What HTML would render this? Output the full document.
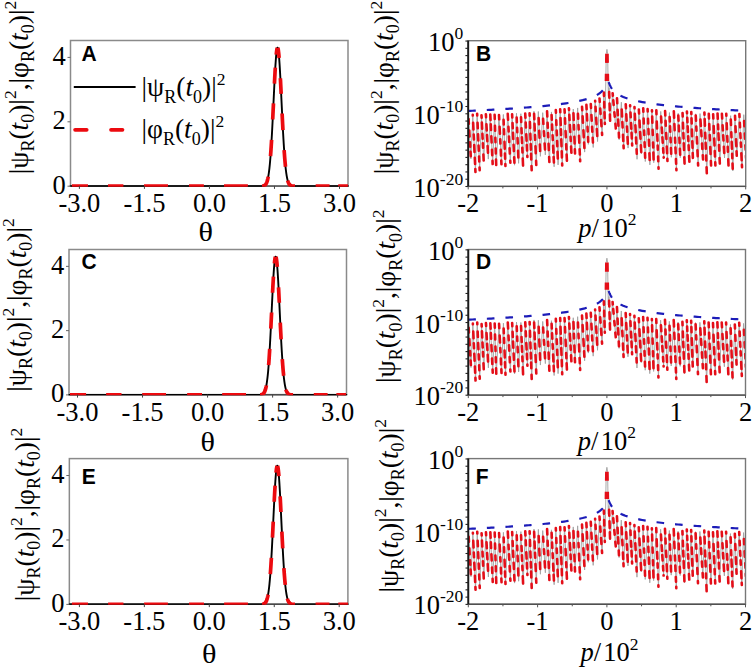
<!DOCTYPE html>
<html><head><meta charset="utf-8"><style>
html,body{margin:0;padding:0;background:#fff;overflow:hidden;}
svg{display:block;}
text{font-family:"Liberation Serif",serif;}
text.sb{font-family:"Liberation Sans",sans-serif;font-weight:bold;}
</style></head><body>
<svg width="754" height="668" viewBox="0 0 754 668" fill="#000">
<rect width="754" height="668" fill="#fff"/>
<rect x="70.5" y="40.5" width="277.5" height="145.4" fill="none" stroke="#8a8a8a" stroke-width="1.5"/>
<line x1="70.5" y1="186.1" x2="348" y2="186.1" stroke="#4a4a4a" stroke-width="1.4"/>
<clipPath id="clipA"><rect x="69.8" y="40.5" width="278.9" height="146.15"/></clipPath>
<g clip-path="url(#clipA)">
<path d="M68.56,186.2 L71.69,186.2 L74.81,186.2 L77.93,186.2 L81.05,186.2 L84.18,186.2 L87.3,186.2 L90.42,186.2 L93.54,186.2 L96.67,186.2 L99.79,186.2 L102.91,186.2 L106.03,186.2 L109.16,186.2 L112.28,186.2 L115.4,186.2 L118.53,186.2 L121.65,186.2 L124.77,186.2 L127.89,186.2 L131.02,186.2 L134.14,186.2 L137.26,186.2 L140.38,186.2 L143.51,186.2 L146.63,186.2 L149.75,186.2 L152.87,186.2 L156,186.2 L159.12,186.2 L162.24,186.2 L165.37,186.2 L168.49,186.2 L171.61,186.2 L174.73,186.2 L177.86,186.2 L180.98,186.2 L184.1,186.2 L187.22,186.2 L190.35,186.2 L193.47,186.2 L196.59,186.2 L199.71,186.2 L202.84,186.2 L205.96,186.2 L209.08,186.2 L212.21,186.2 L215.33,186.2 L218.45,186.2 L221.57,186.2 L224.7,186.2 L227.82,186.2 L230.94,186.2 L234.06,186.2 L237.19,186.2 L240.31,186.2 L243.43,186.2 L246.55,186.2 L249.68,186.2 L252.8,186.2 L252.8,186.2 L252.93,186.2 L253.06,186.2 L253.19,186.2 L253.32,186.2 L253.45,186.2 L253.58,186.2 L253.71,186.2 L253.84,186.2 L253.97,186.2 L254.1,186.2 L254.23,186.2 L254.36,186.2 L254.49,186.2 L254.63,186.2 L254.76,186.2 L254.89,186.2 L255.02,186.2 L255.15,186.2 L255.28,186.2 L255.41,186.2 L255.54,186.2 L255.67,186.2 L255.8,186.2 L255.93,186.2 L256.06,186.2 L256.19,186.2 L256.32,186.2 L256.45,186.2 L256.58,186.2 L256.71,186.2 L256.84,186.2 L256.97,186.2 L257.1,186.2 L257.23,186.2 L257.36,186.2 L257.49,186.2 L257.62,186.2 L257.75,186.2 L257.88,186.2 L258.02,186.2 L258.15,186.2 L258.28,186.2 L258.41,186.2 L258.54,186.2 L258.67,186.2 L258.8,186.2 L258.93,186.2 L259.06,186.2 L259.19,186.2 L259.32,186.2 L259.45,186.19 L259.58,186.19 L259.71,186.19 L259.84,186.19 L259.97,186.19 L260.1,186.19 L260.23,186.19 L260.36,186.19 L260.49,186.18 L260.62,186.18 L260.75,186.18 L260.88,186.17 L261.01,186.17 L261.14,186.17 L261.27,186.16 L261.4,186.16 L261.54,186.15 L261.67,186.14 L261.8,186.14 L261.93,186.13 L262.06,186.12 L262.19,186.11 L262.32,186.09 L262.45,186.08 L262.58,186.07 L262.71,186.05 L262.84,186.03 L262.97,186.01 L263.1,185.98 L263.23,185.96 L263.36,185.93 L263.49,185.89 L263.62,185.86 L263.75,185.82 L263.88,185.77 L264.01,185.72 L264.14,185.67 L264.27,185.61 L264.4,185.54 L264.53,185.47 L264.66,185.39 L264.79,185.3 L264.92,185.2 L265.06,185.09 L265.19,184.98 L265.32,184.85 L265.45,184.71 L265.58,184.56 L265.71,184.39 L265.84,184.21 L265.97,184.01 L266.1,183.8 L266.23,183.57 L266.36,183.32 L266.49,183.05 L266.62,182.76 L266.75,182.44 L266.88,182.1 L267.01,181.73 L267.14,181.34 L267.27,180.92 L267.4,180.46 L267.53,179.98 L267.66,179.46 L267.79,178.9 L267.92,178.31 L268.05,177.68 L268.18,177 L268.31,176.28 L268.45,175.52 L268.58,174.72 L268.71,173.86 L268.84,172.95 L268.97,172 L269.1,170.99 L269.23,169.92 L269.36,168.8 L269.49,167.62 L269.62,166.38 L269.75,165.08 L269.88,163.72 L270.01,162.3 L270.14,160.82 L270.27,159.27 L270.4,157.65 L270.53,155.97 L270.66,154.23 L270.79,152.42 L270.92,150.55 L271.05,148.61 L271.18,146.61 L271.31,144.54 L271.44,142.42 L271.57,140.23 L271.7,137.99 L271.83,135.69 L271.97,133.33 L272.1,130.93 L272.23,128.47 L272.36,125.97 L272.49,123.43 L272.62,120.85 L272.75,118.23 L272.88,115.58 L273.01,112.91 L273.14,110.22 L273.27,107.51 L273.4,104.79 L273.53,102.06 L273.66,99.33 L273.79,96.61 L273.92,93.91 L274.05,91.22 L274.18,88.55 L274.31,85.92 L274.44,83.32 L274.57,80.77 L274.7,78.26 L274.83,75.82 L274.96,73.44 L275.09,71.12 L275.22,68.89 L275.36,66.73 L275.49,64.67 L275.62,62.69 L275.75,60.82 L275.88,59.06 L276.01,57.4 L276.14,55.86 L276.27,54.44 L276.4,53.15 L276.53,51.98 L276.66,50.95 L276.79,50.05 L276.92,49.29 L277.05,48.67 L277.18,48.19 L277.31,47.86 L277.44,47.67 L277.57,47.63 L277.7,47.73 L277.83,47.98 L277.96,48.37 L278.09,48.91 L278.22,49.59 L278.35,50.41 L278.48,51.36 L278.61,52.45 L278.74,53.68 L278.88,55.02 L279.01,56.49 L279.14,58.08 L279.27,59.78 L279.4,61.6 L279.53,63.51 L279.66,65.52 L279.79,67.63 L279.92,69.82 L280.05,72.09 L280.18,74.43 L280.31,76.84 L280.44,79.31 L280.57,81.84 L280.7,84.41 L280.83,87.02 L280.96,89.67 L281.09,92.35 L281.22,95.04 L281.35,97.76 L281.48,100.48 L281.61,103.21 L281.74,105.93 L281.87,108.65 L282,111.35 L282.13,114.04 L282.26,116.7 L282.4,119.33 L282.53,121.93 L282.66,124.5 L282.79,127.03 L282.92,129.51 L283.05,131.94 L283.18,134.33 L283.31,136.66 L283.44,138.94 L283.57,141.16 L283.7,143.32 L283.83,145.42 L283.96,147.46 L284.09,149.43 L284.22,151.34 L284.35,153.19 L284.48,154.97 L284.61,156.69 L284.74,158.34 L284.87,159.93 L285,161.45 L285.13,162.91 L285.26,164.3 L285.39,165.64 L285.52,166.91 L285.65,168.12 L285.79,169.28 L285.92,170.38 L286.05,171.42 L286.18,172.41 L286.31,173.34 L286.44,174.23 L286.57,175.06 L286.7,175.85 L286.83,176.59 L286.96,177.29 L287.09,177.95 L287.22,178.56 L287.35,179.14 L287.48,179.68 L287.61,180.19 L287.74,180.66 L287.87,181.1 L288,181.51 L288.13,181.89 L288.26,182.25 L288.39,182.58 L288.52,182.88 L288.65,183.17 L288.78,183.43 L288.91,183.67 L289.04,183.89 L289.17,184.1 L289.31,184.29 L289.44,184.46 L289.57,184.62 L289.7,184.77 L289.83,184.9 L289.96,185.03 L290.09,185.14 L290.22,185.24 L290.35,185.33 L290.48,185.42 L290.61,185.5 L290.74,185.57 L290.87,185.63 L291,185.69 L291.13,185.74 L291.26,185.79 L291.39,185.83 L291.52,185.87 L291.65,185.91 L291.78,185.94 L291.91,185.97 L292.04,185.99 L292.17,186.02 L292.3,186.04 L292.43,186.06 L292.56,186.07 L292.7,186.09 L292.83,186.1 L292.96,186.11 L293.09,186.12 L293.22,186.13 L293.35,186.14 L293.48,186.15 L293.61,186.15 L293.74,186.16 L293.87,186.16 L294,186.17 L294.13,186.17 L294.26,186.18 L294.39,186.18 L294.52,186.18 L294.65,186.18 L294.78,186.19 L294.91,186.19 L295.04,186.19 L295.17,186.19 L295.3,186.19 L295.43,186.19 L295.56,186.19 L295.69,186.19 L295.82,186.2 L295.95,186.2 L296.08,186.2 L296.22,186.2 L296.35,186.2 L296.48,186.2 L296.61,186.2 L296.74,186.2 L296.87,186.2 L297,186.2 L297.13,186.2 L297.26,186.2 L297.39,186.2 L297.52,186.2 L297.65,186.2 L297.78,186.2 L297.91,186.2 L298.04,186.2 L298.17,186.2 L298.3,186.2 L298.43,186.2 L298.56,186.2 L298.69,186.2 L298.82,186.2 L298.95,186.2 L299.08,186.2 L299.21,186.2 L299.34,186.2 L299.47,186.2 L299.6,186.2 L299.74,186.2 L299.87,186.2 L300,186.2 L300.13,186.2 L300.26,186.2 L300.39,186.2 L300.52,186.2 L300.65,186.2 L300.78,186.2 L300.91,186.2 L301.04,186.2 L301.17,186.2 L301.3,186.2 L301.43,186.2 L301.56,186.2 L301.69,186.2 L301.82,186.2 L301.95,186.2 L302.08,186.2 L302.21,186.2 L302.34,186.2 L302.47,186.2 L302.6,186.2 L302.73,186.2 L302.86,186.2 L302.99,186.2 L303.13,186.2 L303.26,186.2 L303.39,186.2 L303.52,186.2 L303.65,186.2 L303.78,186.2 L303.91,186.2 L304.04,186.2 L304.17,186.2 L304.3,186.2 L304.43,186.2 L304.56,186.2 L304.69,186.2 L304.82,186.2 L304.82,186.2 L307.22,186.2 L309.61,186.2 L312.01,186.2 L314.4,186.2 L316.8,186.2 L319.19,186.2 L321.59,186.2 L323.99,186.2 L326.38,186.2 L328.78,186.2 L331.17,186.2 L333.57,186.2 L335.96,186.2 L338.36,186.2 L340.75,186.2 L343.15,186.2 L345.55,186.2 L347.94,186.2 L350.34,186.2" fill="none" stroke="#000" stroke-width="1.9" stroke-linejoin="round"/>
<path d="M71.88,186.2 L73.11,186.2 L74.34,186.2 L75.57,186.2 L76.8,186.2 L78.03,186.2 L79.26,186.2 L80.48,186.2 L81.71,186.2 L82.94,186.2 L84.17,186.2 L85.4,186.2 L86.63,186.2 L87.86,186.2 L87.98,186.2M108.02,186.2 L109.24,186.2 L110.47,186.2 L111.7,186.2 L112.93,186.2 L114.16,186.2 L115.39,186.2 L116.62,186.2 L117.85,186.2 L119.08,186.2 L120.31,186.2 L121.54,186.2 L122.76,186.2 L123.38,186.2M144.03,186.2 L145.26,186.2 L146.49,186.2 L147.71,186.2 L148.94,186.2 L150.17,186.2 L151.4,186.2 L152.63,186.2 L153.86,186.2 L155.09,186.2 L156.32,186.2 L157.55,186.2 L158.78,186.2 L160.01,186.2 L161.23,186.2 L162.46,186.2 L163.69,186.2 L164.92,186.2 L166.15,186.2 L167.38,186.2 L167.99,186.2M189.01,186.2 L190.24,186.2 L191.47,186.2 L192.7,186.2 L193.93,186.2 L195.16,186.2 L196.39,186.2 L197.61,186.2 L198.84,186.2 L200.07,186.2 L201.3,186.2 L202.53,186.2 L203.76,186.2 L203.88,186.2M224.04,186.2 L225.27,186.2 L226.5,186.2 L227.73,186.2 L228.96,186.2 L230.19,186.2 L231.41,186.2 L232.64,186.2 L233.87,186.2 L235.1,186.2 L236.33,186.2 L237.56,186.2 L238.79,186.2 L240.02,186.2 L241.25,186.2 L242.48,186.2 L243.7,186.2 L244.93,186.2 L246.16,186.2 L247.39,186.2 L247.88,186.2M262,186.12 L262.09,186.12 L262.17,186.11 L262.26,186.1 L262.35,186.09 L262.43,186.08 L262.52,186.07 L262.61,186.06 L262.69,186.05 L262.78,186.04 L262.87,186.02 L262.95,186.01 L263.04,185.99 L263.13,185.98 L263.21,185.96 L263.3,185.94 L263.39,185.92 L263.47,185.9 L263.56,185.87 L263.65,185.85 L263.73,185.82 L263.82,185.79 L263.91,185.76 L263.99,185.73 L264.08,185.69 L264.17,185.66 L264.25,185.62 L264.34,185.57 L264.43,185.53 L264.52,185.48 L264.6,185.42 L264.69,185.37 L264.78,185.31 L264.86,185.25 L264.95,185.18 L265.04,185.11 L265.12,185.03 L265.21,184.95 L265.3,184.87 L265.38,184.78 L265.47,184.68 L265.56,184.58 L265.64,184.47 L265.73,184.36 L265.82,184.24 L265.9,184.11 L265.99,183.98 L266.08,183.84 L266.16,183.69 L266.25,183.53 L266.34,183.37 L266.42,183.19 L266.51,183.01 L266.6,182.81 L266.68,182.61 L266.77,182.39 L266.86,182.17 L266.94,181.93 L267.03,181.68 L267.12,181.42 L267.2,181.14 L267.29,180.86 L267.38,180.56 L267.46,180.24 L267.55,179.91 L267.64,179.56 L267.72,179.2 L267.81,178.83 L267.9,178.43 L267.98,178.02 L268.07,177.59 L268.16,177.15 L268.24,176.68 L268.27,176.54M270.52,156.06 L270.61,154.91 L270.7,153.73 L270.78,152.53 L270.87,151.29 L270.96,150.02 L271.04,148.73 L271.13,147.41 L271.22,146.06 L271.3,144.68 L271.39,143.28 L271.48,141.85 L271.57,140.39 L271.59,139.95M272.68,119.52 L272.77,117.77 L272.86,116.01 L272.94,114.23 L273.03,112.45 L273.12,110.66 L273.2,108.86 L273.29,107.06 L273.38,105.25 L273.46,103.43 L273.46,103.43M274.43,83.63 L274.51,81.93 L274.6,80.24 L274.69,78.58 L274.77,76.94 L274.86,75.33 L274.95,73.74 L275.03,72.19 L275.12,70.67 L275.21,69.18 L275.29,67.73 L275.3,67.59M276.26,54.56 L276.34,53.68 L276.43,52.85 L276.52,52.08 L276.6,51.37 L276.69,50.72 L276.78,50.13 L276.86,49.6 L276.95,49.13 L277.04,48.72 L277.12,48.38 L277.21,48.1 L277.29,47.91M277.8,47.9 L277.89,48.13 L277.97,48.41 L278.06,48.76 L278.15,49.17 L278.23,49.65 L278.32,50.18 L278.41,50.78 L278.49,51.44 L278.58,52.16 L278.67,52.93 L278.75,53.76 L278.84,54.65 L278.93,55.59 L279.01,56.59 L279.1,57.64 L279.13,57.96M280.38,78.25 L280.47,79.9 L280.56,81.59 L280.64,83.29 L280.73,85.01 L280.82,86.75 L280.9,88.51 L280.99,90.28 L281.08,92.06 L281.16,93.85 L281.16,93.85M282.11,113.52 L282.2,115.3 L282.28,117.06 L282.37,118.82 L282.46,120.55 L282.54,122.28 L282.63,123.99 L282.72,125.68 L282.8,127.35 L282.89,129 L282.95,130.14M284.13,150.02 L284.22,151.29 L284.3,152.52 L284.39,153.73 L284.48,154.91 L284.56,156.06 L284.65,157.18 L284.74,158.28 L284.82,159.34 L284.91,160.38 L285,161.38 L285.08,162.36 L285.17,163.31 L285.26,164.24 L285.34,165.13 L285.43,166 L285.51,166.76M287.7,180.52 L287.79,180.83 L287.88,181.12 L287.96,181.39 L288.05,181.65 L288.14,181.9 L288.22,182.14 L288.31,182.37 L288.4,182.59 L288.48,182.79 L288.57,182.99 L288.66,183.17 L288.74,183.35 L288.83,183.51 L288.92,183.67 L289,183.82 L289.09,183.97 L289.18,184.1 L289.26,184.23 L289.35,184.35 L289.44,184.46 L289.52,184.57 L289.61,184.67 L289.7,184.77 L289.78,184.86 L289.87,184.95 L289.96,185.03 L290.04,185.1 L290.13,185.17 L290.22,185.24 L290.3,185.3 L290.39,185.36 L290.48,185.42 L290.56,185.47 L290.65,185.52 L290.74,185.57 L290.82,185.61 L290.91,185.65 L291,185.69 L291.08,185.73 L291.17,185.76 L291.26,185.79 L291.34,185.82 L291.43,185.85 L291.52,185.87 L291.6,185.9 L291.69,185.92 L291.78,185.94 L291.86,185.96 L291.95,185.98 L292.04,185.99 L292.13,186.01 L292.21,186.02 L292.3,186.04 L292.39,186.05 L292.47,186.06 L292.56,186.07 L292.65,186.08 L292.73,186.09 L292.82,186.1 L292.91,186.11 L292.99,186.11 L293.08,186.12 L293.17,186.13 L293.25,186.13 L293.34,186.14 L293.43,186.14 L293.51,186.15 L293.6,186.15 L293.69,186.16 L293.77,186.16 L293.86,186.16 L293.95,186.17 L294.03,186.17 L294.12,186.17 L294.21,186.17 L294.29,186.18 L294.38,186.18 L294.47,186.18 L294.55,186.18 L294.64,186.18 L294.73,186.19 L294.81,186.19 L294.9,186.19 L294.99,186.19 L295,186.19M315.66,186.2 L316.8,186.2 L317.94,186.2 L319.08,186.2 L320.22,186.2 L321.36,186.2 L322.5,186.2 L323.64,186.2 L324.78,186.2 L325.92,186.2 L327.07,186.2 L328.21,186.2 L329.35,186.2 L329.58,186.2M338.25,186.2 L339.39,186.2 L340.53,186.2 L341.67,186.2 L342.81,186.2 L343.95,186.2 L345.09,186.2 L346.23,186.2 L347.37,186.2 L347.94,186.2" fill="none" stroke="#ec0a0f" stroke-width="3.7"/>
</g>
<line x1="79.4" y1="185.9" x2="79.4" y2="188.9" stroke="#444" stroke-width="1"/>
<text x="79.4" y="212.1" font-size="26.5" text-anchor="middle">-3.0</text>
<line x1="144.43" y1="185.9" x2="144.43" y2="188.9" stroke="#444" stroke-width="1"/>
<text x="144.43" y="212.1" font-size="26.5" text-anchor="middle">-1.5</text>
<line x1="209.45" y1="185.9" x2="209.45" y2="188.9" stroke="#444" stroke-width="1"/>
<text x="209.45" y="212.1" font-size="26.5" text-anchor="middle">0.0</text>
<line x1="274.48" y1="185.9" x2="274.48" y2="188.9" stroke="#444" stroke-width="1"/>
<text x="274.48" y="212.1" font-size="26.5" text-anchor="middle">1.5</text>
<line x1="339.5" y1="185.9" x2="339.5" y2="188.9" stroke="#444" stroke-width="1"/>
<text x="339.5" y="212.1" font-size="26.5" text-anchor="middle">3.0</text>
<line x1="67.5" y1="186.2" x2="70.5" y2="186.2" stroke="#666" stroke-width="1"/>
<text x="65.7" y="193.5" font-size="26.5" text-anchor="end">0</text>
<line x1="67.5" y1="121.8" x2="70.5" y2="121.8" stroke="#666" stroke-width="1"/>
<text x="65.7" y="129.1" font-size="26.5" text-anchor="end">2</text>
<line x1="67.5" y1="57.4" x2="70.5" y2="57.4" stroke="#666" stroke-width="1"/>
<text x="65.7" y="64.7" font-size="26.5" text-anchor="end">4</text>
<text transform="translate(81.6,61) scale(1,1.09)" class="sb" font-size="21">A</text>
<text transform="translate(198.55,240.5) scale(1.14,1)" font-size="26.5">θ</text>
<text transform="translate(27.6,174.35) rotate(-90)" font-size="27.5"><tspan font-size="27.5">|ψ</tspan><tspan font-size="18" dy="6.2">R</tspan><tspan font-size="27.5" dy="-6.2">(</tspan><tspan font-size="27.5" font-style="italic">t</tspan><tspan font-size="18" dy="6.2">0</tspan><tspan font-size="27.5" dy="-6.2">)|</tspan><tspan font-size="17.5" dy="-11.5">2</tspan><tspan font-size="27.5" dy="11.5">,</tspan><tspan font-size="27.5">|φ</tspan><tspan font-size="18" dy="6.2">R</tspan><tspan font-size="27.5" dy="-6.2">(</tspan><tspan font-size="27.5" font-style="italic">t</tspan><tspan font-size="18" dy="6.2">0</tspan><tspan font-size="27.5" dy="-6.2">)|</tspan><tspan font-size="17.5" dy="-11.5">2</tspan></text>
<line x1="73.8" y1="87.1" x2="135.6" y2="87.1" stroke="#000" stroke-width="2"/>
<line x1="75.1" y1="129.8" x2="86.7" y2="129.8" stroke="#ec0a0f" stroke-width="3.7" stroke-linecap="round"/>
<line x1="111" y1="129.8" x2="122.5" y2="129.8" stroke="#ec0a0f" stroke-width="3.7" stroke-linecap="round"/>
<text x="141.5" y="96.3" font-size="27.5"><tspan font-size="27.5">|ψ</tspan><tspan font-size="18" dy="6.2">R</tspan><tspan font-size="27.5" dy="-6.2">(</tspan><tspan font-size="27.5" font-style="italic">t</tspan><tspan font-size="18" dy="6.2">0</tspan><tspan font-size="27.5" dy="-6.2">)|</tspan><tspan font-size="17.5" dy="-11.5">2</tspan></text>
<text x="141.5" y="138.3" font-size="27.5"><tspan font-size="27.5">|φ</tspan><tspan font-size="18" dy="6.2">R</tspan><tspan font-size="27.5" dy="-6.2">(</tspan><tspan font-size="27.5" font-style="italic">t</tspan><tspan font-size="18" dy="6.2">0</tspan><tspan font-size="27.5" dy="-6.2">)|</tspan><tspan font-size="17.5" dy="-11.5">2</tspan></text>
<rect x="69" y="249.5" width="277.5" height="145.1" fill="none" stroke="#8a8a8a" stroke-width="1.5"/>
<line x1="69" y1="394.8" x2="346.5" y2="394.8" stroke="#4a4a4a" stroke-width="1.4"/>
<clipPath id="clipC"><rect x="68.3" y="249.5" width="278.9" height="145.85"/></clipPath>
<g clip-path="url(#clipC)">
<path d="M66.66,394.9 L69.78,394.9 L72.91,394.9 L76.03,394.9 L79.15,394.9 L82.28,394.9 L85.4,394.9 L88.52,394.9 L91.65,394.9 L94.77,394.9 L97.89,394.9 L101.02,394.9 L104.14,394.9 L107.26,394.9 L110.39,394.9 L113.51,394.9 L116.63,394.9 L119.76,394.9 L122.88,394.9 L126,394.9 L129.13,394.9 L132.25,394.9 L135.37,394.9 L138.5,394.9 L141.62,394.9 L144.74,394.9 L147.87,394.9 L150.99,394.9 L154.11,394.9 L157.24,394.9 L160.36,394.9 L163.48,394.9 L166.61,394.9 L169.73,394.9 L172.85,394.9 L175.97,394.9 L179.1,394.9 L182.22,394.9 L185.34,394.9 L188.47,394.9 L191.59,394.9 L194.71,394.9 L197.84,394.9 L200.96,394.9 L204.08,394.9 L207.21,394.9 L210.33,394.9 L213.45,394.9 L216.58,394.9 L219.7,394.9 L222.82,394.9 L225.95,394.9 L229.07,394.9 L232.19,394.9 L235.32,394.9 L238.44,394.9 L241.56,394.9 L244.69,394.9 L247.81,394.9 L250.93,394.9 L250.93,394.9 L251.06,394.9 L251.19,394.9 L251.32,394.9 L251.45,394.9 L251.59,394.9 L251.72,394.9 L251.85,394.9 L251.98,394.9 L252.11,394.9 L252.24,394.9 L252.37,394.9 L252.5,394.9 L252.63,394.9 L252.76,394.9 L252.89,394.9 L253.02,394.9 L253.15,394.9 L253.28,394.9 L253.41,394.9 L253.54,394.9 L253.67,394.9 L253.8,394.9 L253.93,394.9 L254.06,394.9 L254.19,394.9 L254.32,394.9 L254.45,394.9 L254.58,394.9 L254.71,394.9 L254.85,394.9 L254.98,394.9 L255.11,394.9 L255.24,394.9 L255.37,394.9 L255.5,394.9 L255.63,394.9 L255.76,394.9 L255.89,394.9 L256.02,394.9 L256.15,394.9 L256.28,394.9 L256.41,394.9 L256.54,394.9 L256.67,394.9 L256.8,394.9 L256.93,394.9 L257.06,394.9 L257.19,394.9 L257.32,394.9 L257.45,394.9 L257.58,394.89 L257.71,394.89 L257.84,394.89 L257.97,394.89 L258.11,394.89 L258.24,394.89 L258.37,394.89 L258.5,394.89 L258.63,394.88 L258.76,394.88 L258.89,394.88 L259.02,394.87 L259.15,394.87 L259.28,394.87 L259.41,394.86 L259.54,394.86 L259.67,394.85 L259.8,394.84 L259.93,394.84 L260.06,394.83 L260.19,394.82 L260.32,394.81 L260.45,394.79 L260.58,394.78 L260.71,394.77 L260.84,394.75 L260.97,394.73 L261.1,394.71 L261.24,394.68 L261.37,394.66 L261.5,394.63 L261.63,394.59 L261.76,394.56 L261.89,394.52 L262.02,394.47 L262.15,394.42 L262.28,394.37 L262.41,394.31 L262.54,394.24 L262.67,394.17 L262.8,394.09 L262.93,394 L263.06,393.9 L263.19,393.79 L263.32,393.68 L263.45,393.55 L263.58,393.41 L263.71,393.26 L263.84,393.09 L263.97,392.91 L264.1,392.72 L264.23,392.51 L264.36,392.28 L264.5,392.03 L264.63,391.76 L264.76,391.46 L264.89,391.15 L265.02,390.81 L265.15,390.44 L265.28,390.05 L265.41,389.63 L265.54,389.18 L265.67,388.69 L265.8,388.17 L265.93,387.62 L266.06,387.02 L266.19,386.39 L266.32,385.72 L266.45,385.01 L266.58,384.25 L266.71,383.44 L266.84,382.59 L266.97,381.68 L267.1,380.73 L267.23,379.72 L267.36,378.65 L267.49,377.54 L267.62,376.36 L267.76,375.12 L267.89,373.83 L268.02,372.47 L268.15,371.05 L268.28,369.57 L268.41,368.02 L268.54,366.41 L268.67,364.74 L268.8,363 L268.93,361.19 L269.06,359.32 L269.19,357.39 L269.32,355.39 L269.45,353.33 L269.58,351.21 L269.71,349.03 L269.84,346.79 L269.97,344.49 L270.1,342.14 L270.23,339.74 L270.36,337.29 L270.49,334.79 L270.62,332.26 L270.75,329.68 L270.88,327.07 L271.02,324.43 L271.15,321.76 L271.28,319.07 L271.41,316.37 L271.54,313.65 L271.67,310.93 L271.8,308.21 L271.93,305.5 L272.06,302.8 L272.19,300.11 L272.32,297.45 L272.45,294.82 L272.58,292.23 L272.71,289.68 L272.84,287.19 L272.97,284.75 L273.1,282.37 L273.23,280.06 L273.36,277.83 L273.49,275.68 L273.62,273.62 L273.75,271.65 L273.88,269.78 L274.01,268.02 L274.14,266.37 L274.28,264.83 L274.41,263.41 L274.54,262.12 L274.67,260.96 L274.8,259.93 L274.93,259.03 L275.06,258.27 L275.19,257.65 L275.32,257.18 L275.45,256.84 L275.58,256.66 L275.71,256.61 L275.84,256.72 L275.97,256.97 L276.1,257.36 L276.23,257.89 L276.36,258.57 L276.49,259.39 L276.62,260.34 L276.75,261.43 L276.88,262.65 L277.01,263.99 L277.14,265.46 L277.27,267.05 L277.4,268.75 L277.54,270.55 L277.67,272.46 L277.8,274.47 L277.93,276.57 L278.06,278.76 L278.19,281.02 L278.32,283.36 L278.45,285.77 L278.58,288.23 L278.71,290.75 L278.84,293.32 L278.97,295.93 L279.1,298.57 L279.23,301.24 L279.36,303.93 L279.49,306.64 L279.62,309.36 L279.75,312.08 L279.88,314.8 L280.01,317.51 L280.14,320.21 L280.27,322.89 L280.4,325.54 L280.53,328.17 L280.66,330.77 L280.8,333.33 L280.93,335.85 L281.06,338.33 L281.19,340.76 L281.32,343.14 L281.45,345.46 L281.58,347.74 L281.71,349.95 L281.84,352.11 L281.97,354.2 L282.1,356.24 L282.23,358.21 L282.36,360.12 L282.49,361.96 L282.62,363.74 L282.75,365.45 L282.88,367.1 L283.01,368.68 L283.14,370.2 L283.27,371.66 L283.4,373.05 L283.53,374.38 L283.66,375.65 L283.79,376.86 L283.92,378.01 L284.06,379.11 L284.19,380.15 L284.32,381.13 L284.45,382.07 L284.58,382.95 L284.71,383.78 L284.84,384.57 L284.97,385.31 L285.1,386.01 L285.23,386.66 L285.36,387.28 L285.49,387.85 L285.62,388.39 L285.75,388.9 L285.88,389.37 L286.01,389.81 L286.14,390.22 L286.27,390.6 L286.4,390.96 L286.53,391.28 L286.66,391.59 L286.79,391.87 L286.92,392.13 L287.05,392.37 L287.18,392.6 L287.32,392.8 L287.45,392.99 L287.58,393.17 L287.71,393.32 L287.84,393.47 L287.97,393.61 L288.1,393.73 L288.23,393.84 L288.36,393.94 L288.49,394.04 L288.62,394.12 L288.75,394.2 L288.88,394.27 L289.01,394.33 L289.14,394.39 L289.27,394.44 L289.4,394.49 L289.53,394.53 L289.66,394.57 L289.79,394.61 L289.92,394.64 L290.05,394.67 L290.18,394.69 L290.31,394.72 L290.44,394.74 L290.58,394.76 L290.71,394.77 L290.84,394.79 L290.97,394.8 L291.1,394.81 L291.23,394.82 L291.36,394.83 L291.49,394.84 L291.62,394.85 L291.75,394.85 L291.88,394.86 L292.01,394.86 L292.14,394.87 L292.27,394.87 L292.4,394.88 L292.53,394.88 L292.66,394.88 L292.79,394.88 L292.92,394.89 L293.05,394.89 L293.18,394.89 L293.31,394.89 L293.44,394.89 L293.57,394.89 L293.7,394.89 L293.84,394.89 L293.97,394.9 L294.1,394.9 L294.23,394.9 L294.36,394.9 L294.49,394.9 L294.62,394.9 L294.75,394.9 L294.88,394.9 L295.01,394.9 L295.14,394.9 L295.27,394.9 L295.4,394.9 L295.53,394.9 L295.66,394.9 L295.79,394.9 L295.92,394.9 L296.05,394.9 L296.18,394.9 L296.31,394.9 L296.44,394.9 L296.57,394.9 L296.7,394.9 L296.83,394.9 L296.96,394.9 L297.1,394.9 L297.23,394.9 L297.36,394.9 L297.49,394.9 L297.62,394.9 L297.75,394.9 L297.88,394.9 L298.01,394.9 L298.14,394.9 L298.27,394.9 L298.4,394.9 L298.53,394.9 L298.66,394.9 L298.79,394.9 L298.92,394.9 L299.05,394.9 L299.18,394.9 L299.31,394.9 L299.44,394.9 L299.57,394.9 L299.7,394.9 L299.83,394.9 L299.96,394.9 L300.09,394.9 L300.22,394.9 L300.36,394.9 L300.49,394.9 L300.62,394.9 L300.75,394.9 L300.88,394.9 L301.01,394.9 L301.14,394.9 L301.27,394.9 L301.4,394.9 L301.53,394.9 L301.66,394.9 L301.79,394.9 L301.92,394.9 L302.05,394.9 L302.18,394.9 L302.31,394.9 L302.44,394.9 L302.57,394.9 L302.7,394.9 L302.83,394.9 L302.96,394.9 L302.96,394.9 L305.36,394.9 L307.76,394.9 L310.15,394.9 L312.55,394.9 L314.94,394.9 L317.34,394.9 L319.74,394.9 L322.13,394.9 L324.53,394.9 L326.92,394.9 L329.32,394.9 L331.72,394.9 L334.11,394.9 L336.51,394.9 L338.91,394.9 L341.3,394.9 L343.7,394.9 L346.09,394.9 L348.49,394.9" fill="none" stroke="#000" stroke-width="1.9" stroke-linejoin="round"/>
<path d="M69.98,394.9 L71.21,394.9 L72.44,394.9 L73.67,394.9 L74.9,394.9 L76.13,394.9 L77.36,394.9 L78.58,394.9 L79.81,394.9 L81.04,394.9 L82.27,394.9 L83.5,394.9 L84.73,394.9 L85.96,394.9 L86.08,394.9M106.12,394.9 L107.35,394.9 L108.58,394.9 L109.81,394.9 L111.04,394.9 L112.27,394.9 L113.5,394.9 L114.73,394.9 L115.96,394.9 L117.18,394.9 L118.41,394.9 L119.64,394.9 L120.87,394.9 L121.49,394.9M142.14,394.9 L143.37,394.9 L144.6,394.9 L145.83,394.9 L147.06,394.9 L148.29,394.9 L149.52,394.9 L150.74,394.9 L151.97,394.9 L153.2,394.9 L154.43,394.9 L155.66,394.9 L156.89,394.9 L158.12,394.9 L159.35,394.9 L160.58,394.9 L161.81,394.9 L163.04,394.9 L164.27,394.9 L165.5,394.9 L165.99,394.9M187.13,394.9 L188.36,394.9 L189.59,394.9 L190.82,394.9 L192.05,394.9 L193.28,394.9 L194.51,394.9 L195.74,394.9 L196.97,394.9 L198.2,394.9 L199.43,394.9 L200.65,394.9 L201.88,394.9 L202.01,394.9M222.17,394.9 L223.4,394.9 L224.63,394.9 L225.86,394.9 L227.08,394.9 L228.31,394.9 L229.54,394.9 L230.77,394.9 L232,394.9 L233.23,394.9 L234.46,394.9 L235.69,394.9 L236.92,394.9 L238.15,394.9 L239.38,394.9 L240.61,394.9 L241.84,394.9 L243.07,394.9 L244.3,394.9 L245.52,394.9 L246.02,394.9M260.1,394.82 L260.19,394.82 L260.27,394.81 L260.36,394.8 L260.45,394.79 L260.53,394.79 L260.62,394.78 L260.71,394.77 L260.79,394.75 L260.88,394.74 L260.97,394.73 L261.05,394.72 L261.14,394.7 L261.23,394.68 L261.32,394.67 L261.4,394.65 L261.49,394.63 L261.58,394.61 L261.66,394.58 L261.75,394.56 L261.84,394.53 L261.92,394.51 L262.01,394.48 L262.1,394.44 L262.18,394.41 L262.27,394.37 L262.36,394.33 L262.44,394.29 L262.53,394.25 L262.62,394.2 L262.7,394.15 L262.79,394.09 L262.88,394.04 L262.96,393.97 L263.05,393.91 L263.14,393.84 L263.22,393.77 L263.31,393.69 L263.4,393.61 L263.48,393.52 L263.57,393.42 L263.66,393.33 L263.74,393.22 L263.83,393.11 L263.92,392.99 L264,392.87 L264.09,392.74 L264.18,392.6 L264.26,392.45 L264.35,392.3 L264.44,392.14 L264.52,391.97 L264.61,391.79 L264.7,391.6 L264.78,391.4 L264.87,391.19 L264.96,390.97 L265.04,390.73 L265.13,390.49 L265.22,390.23 L265.3,389.97 L265.39,389.68 L265.48,389.39 L265.56,389.08 L265.65,388.76 L265.74,388.42 L265.83,388.06 L265.91,387.69 L266,387.31 L266.09,386.9 L266.17,386.48 L266.26,386.05 L266.35,385.59 L266.35,385.54M268.64,365.05 L268.73,363.91 L268.82,362.74 L268.9,361.54 L268.99,360.31 L269.08,359.05 L269.16,357.77 L269.25,356.45 L269.34,355.11 L269.42,353.74 L269.51,352.35 L269.6,350.92 L269.68,349.48 L269.72,348.89M270.81,328.53 L270.9,326.78 L270.99,325.03 L271.07,323.26 L271.16,321.48 L271.25,319.7 L271.33,317.9 L271.42,316.1 L271.51,314.29 L271.59,312.49 L271.59,312.49M272.56,292.72 L272.64,291.01 L272.73,289.33 L272.82,287.66 L272.9,286.03 L272.99,284.41 L273.08,282.83 L273.16,281.28 L273.25,279.76 L273.34,278.27 L273.42,276.82 L273.44,276.54M274.39,263.53 L274.48,262.65 L274.57,261.83 L274.65,261.06 L274.74,260.35 L274.83,259.7 L274.91,259.11 L275,258.58 L275.09,258.11 L275.17,257.71 L275.26,257.37 L275.35,257.09 L275.42,256.91M275.95,256.91 L276.03,257.14 L276.12,257.43 L276.21,257.78 L276.29,258.2 L276.38,258.68 L276.47,259.22 L276.55,259.82 L276.64,260.49 L276.73,261.21 L276.81,261.99 L276.9,262.82 L276.99,263.71 L277.07,264.66 L277.16,265.66 L277.25,266.71 L277.26,266.93M278.53,287.33 L278.62,288.99 L278.7,290.67 L278.79,292.37 L278.88,294.09 L278.96,295.83 L279.05,297.58 L279.14,299.35 L279.23,301.13 L279.3,302.74M280.26,322.55 L280.34,324.32 L280.43,326.08 L280.52,327.83 L280.6,329.56 L280.69,331.28 L280.78,332.98 L280.86,334.67 L280.95,336.33 L281.04,337.98 L281.11,339.28M282.29,359.05 L282.37,360.31 L282.46,361.54 L282.55,362.74 L282.63,363.91 L282.72,365.05 L282.81,366.16 L282.89,367.25 L282.98,368.3 L283.07,369.33 L283.15,370.33 L283.24,371.3 L283.33,372.25 L283.41,373.16 L283.5,374.05 L283.59,374.91 L283.67,375.75 L283.67,375.75M285.92,389.51 L286.01,389.8 L286.09,390.07 L286.18,390.34 L286.27,390.59 L286.35,390.83 L286.44,391.06 L286.53,391.27 L286.61,391.48 L286.7,391.67 L286.79,391.86 L286.87,392.04 L286.96,392.2 L287.05,392.36 L287.13,392.51 L287.22,392.66 L287.31,392.79 L287.4,392.92 L287.48,393.04 L287.57,393.16 L287.66,393.26 L287.74,393.37 L287.83,393.46 L287.92,393.55 L288,393.64 L288.09,393.72 L288.18,393.8 L288.26,393.87 L288.35,393.94 L288.44,394 L288.52,394.06 L288.61,394.12 L288.7,394.17 L288.78,394.22 L288.87,394.26 L288.96,394.31 L289.04,394.35 L289.13,394.39 L289.22,394.42 L289.3,394.46 L289.39,394.49 L289.48,394.52 L289.56,394.54 L289.65,394.57 L289.74,394.59 L289.82,394.62 L289.91,394.64 L290,394.66 L290.08,394.67 L290.17,394.69 L290.26,394.71 L290.34,394.72 L290.43,394.74 L290.52,394.75 L290.6,394.76 L290.69,394.77 L290.78,394.78 L290.86,394.79 L290.95,394.8 L291.04,394.81 L291.12,394.81 L291.21,394.82 L291.3,394.83 L291.38,394.83 L291.47,394.84 L291.56,394.84 L291.64,394.85 L291.73,394.85 L291.82,394.86 L291.91,394.86 L291.99,394.86 L292.08,394.87 L292.17,394.87 L292.25,394.87 L292.34,394.87 L292.43,394.88 L292.51,394.88 L292.6,394.88 L292.69,394.88 L292.77,394.88 L292.86,394.89 L292.95,394.89 L293.03,394.89 L293.09,394.89M313.8,394.9 L314.94,394.9 L316.08,394.9 L317.23,394.9 L318.37,394.9 L319.51,394.9 L320.65,394.9 L321.79,394.9 L322.93,394.9 L324.07,394.9 L325.21,394.9 L326.35,394.9 L327.5,394.9 L327.61,394.9M336.39,394.9 L337.54,394.9 L338.68,394.9 L339.82,394.9 L340.96,394.9 L342.1,394.9 L343.24,394.9 L344.38,394.9 L345.52,394.9 L346.09,394.9" fill="none" stroke="#ec0a0f" stroke-width="3.7"/>
</g>
<line x1="77.5" y1="394.6" x2="77.5" y2="397.6" stroke="#444" stroke-width="1"/>
<text x="77.5" y="420.8" font-size="26.5" text-anchor="middle">-3.0</text>
<line x1="142.54" y1="394.6" x2="142.54" y2="397.6" stroke="#444" stroke-width="1"/>
<text x="142.54" y="420.8" font-size="26.5" text-anchor="middle">-1.5</text>
<line x1="207.57" y1="394.6" x2="207.57" y2="397.6" stroke="#444" stroke-width="1"/>
<text x="207.57" y="420.8" font-size="26.5" text-anchor="middle">0.0</text>
<line x1="272.61" y1="394.6" x2="272.61" y2="397.6" stroke="#444" stroke-width="1"/>
<text x="272.61" y="420.8" font-size="26.5" text-anchor="middle">1.5</text>
<line x1="337.65" y1="394.6" x2="337.65" y2="397.6" stroke="#444" stroke-width="1"/>
<text x="337.65" y="420.8" font-size="26.5" text-anchor="middle">3.0</text>
<line x1="66" y1="394.9" x2="69" y2="394.9" stroke="#666" stroke-width="1"/>
<text x="64.2" y="402.2" font-size="26.5" text-anchor="end">0</text>
<line x1="66" y1="330.63" x2="69" y2="330.63" stroke="#666" stroke-width="1"/>
<text x="64.2" y="337.93" font-size="26.5" text-anchor="end">2</text>
<line x1="66" y1="266.37" x2="69" y2="266.37" stroke="#666" stroke-width="1"/>
<text x="64.2" y="273.67" font-size="26.5" text-anchor="end">4</text>
<text transform="translate(81.6,268.8) scale(1,1.09)" class="sb" font-size="21">C</text>
<text transform="translate(200.55,451.4) scale(1.14,1)" font-size="26.5">θ</text>
<text transform="translate(25.8,391.75) rotate(-90)" font-size="27.5"><tspan font-size="27.5">|ψ</tspan><tspan font-size="18" dy="6.2">R</tspan><tspan font-size="27.5" dy="-6.2">(</tspan><tspan font-size="27.5" font-style="italic">t</tspan><tspan font-size="18" dy="6.2">0</tspan><tspan font-size="27.5" dy="-6.2">)|</tspan><tspan font-size="17.5" dy="-11.5">2</tspan><tspan font-size="27.5" dy="11.5">,</tspan><tspan font-size="27.5">|φ</tspan><tspan font-size="18" dy="6.2">R</tspan><tspan font-size="27.5" dy="-6.2">(</tspan><tspan font-size="27.5" font-style="italic">t</tspan><tspan font-size="18" dy="6.2">0</tspan><tspan font-size="27.5" dy="-6.2">)|</tspan><tspan font-size="17.5" dy="-11.5">2</tspan></text>
<rect x="69.35" y="458.6" width="278.55" height="145.5" fill="none" stroke="#8a8a8a" stroke-width="1.5"/>
<line x1="69.35" y1="604.3" x2="347.9" y2="604.3" stroke="#4a4a4a" stroke-width="1.4"/>
<clipPath id="clipE"><rect x="68.65" y="458.6" width="279.95" height="146.25"/></clipPath>
<g clip-path="url(#clipE)">
<path d="M68.58,604.4 L71.69,604.4 L74.81,604.4 L77.93,604.4 L81.05,604.4 L84.17,604.4 L87.29,604.4 L90.41,604.4 L93.53,604.4 L96.65,604.4 L99.77,604.4 L102.88,604.4 L106,604.4 L109.12,604.4 L112.24,604.4 L115.36,604.4 L118.48,604.4 L121.6,604.4 L124.72,604.4 L127.84,604.4 L130.96,604.4 L134.08,604.4 L137.19,604.4 L140.31,604.4 L143.43,604.4 L146.55,604.4 L149.67,604.4 L152.79,604.4 L155.91,604.4 L159.03,604.4 L162.15,604.4 L165.27,604.4 L168.39,604.4 L171.5,604.4 L174.62,604.4 L177.74,604.4 L180.86,604.4 L183.98,604.4 L187.1,604.4 L190.22,604.4 L193.34,604.4 L196.46,604.4 L199.58,604.4 L202.69,604.4 L205.81,604.4 L208.93,604.4 L212.05,604.4 L215.17,604.4 L218.29,604.4 L221.41,604.4 L224.53,604.4 L227.65,604.4 L230.77,604.4 L233.89,604.4 L237,604.4 L240.12,604.4 L243.24,604.4 L246.36,604.4 L249.48,604.4 L252.6,604.4 L252.6,604.4 L252.73,604.4 L252.86,604.4 L252.99,604.4 L253.12,604.4 L253.25,604.4 L253.38,604.4 L253.51,604.4 L253.64,604.4 L253.77,604.4 L253.9,604.4 L254.03,604.4 L254.16,604.4 L254.29,604.4 L254.42,604.4 L254.55,604.4 L254.68,604.4 L254.81,604.4 L254.94,604.4 L255.07,604.4 L255.2,604.4 L255.33,604.4 L255.46,604.4 L255.6,604.4 L255.73,604.4 L255.86,604.4 L255.99,604.4 L256.12,604.4 L256.25,604.4 L256.38,604.4 L256.51,604.4 L256.64,604.4 L256.77,604.4 L256.9,604.4 L257.03,604.4 L257.16,604.4 L257.29,604.4 L257.42,604.4 L257.55,604.4 L257.68,604.4 L257.81,604.4 L257.94,604.4 L258.07,604.4 L258.2,604.4 L258.33,604.4 L258.46,604.4 L258.59,604.4 L258.72,604.4 L258.85,604.4 L258.98,604.4 L259.11,604.4 L259.24,604.39 L259.37,604.39 L259.5,604.39 L259.63,604.39 L259.76,604.39 L259.89,604.39 L260.02,604.39 L260.15,604.39 L260.28,604.38 L260.41,604.38 L260.54,604.38 L260.67,604.37 L260.8,604.37 L260.93,604.37 L261.06,604.36 L261.19,604.36 L261.33,604.35 L261.46,604.34 L261.59,604.34 L261.72,604.33 L261.85,604.32 L261.98,604.31 L262.11,604.29 L262.24,604.28 L262.37,604.27 L262.5,604.25 L262.63,604.23 L262.76,604.21 L262.89,604.18 L263.02,604.16 L263.15,604.13 L263.28,604.09 L263.41,604.06 L263.54,604.02 L263.67,603.97 L263.8,603.92 L263.93,603.87 L264.06,603.81 L264.19,603.74 L264.32,603.67 L264.45,603.58 L264.58,603.5 L264.71,603.4 L264.84,603.29 L264.97,603.17 L265.1,603.05 L265.23,602.91 L265.36,602.75 L265.49,602.59 L265.62,602.41 L265.75,602.21 L265.88,602 L266.01,601.77 L266.14,601.52 L266.27,601.25 L266.4,600.95 L266.53,600.64 L266.66,600.3 L266.79,599.93 L266.92,599.54 L267.06,599.11 L267.19,598.66 L267.32,598.17 L267.45,597.65 L267.58,597.1 L267.71,596.5 L267.84,595.87 L267.97,595.2 L268.1,594.48 L268.23,593.72 L268.36,592.91 L268.49,592.05 L268.62,591.14 L268.75,590.19 L268.88,589.18 L269.01,588.11 L269.14,586.99 L269.27,585.81 L269.4,584.57 L269.53,583.27 L269.66,581.91 L269.79,580.49 L269.92,579 L270.05,577.45 L270.18,575.83 L270.31,574.15 L270.44,572.41 L270.57,570.6 L270.7,568.72 L270.83,566.78 L270.96,564.78 L271.09,562.72 L271.22,560.59 L271.35,558.4 L271.48,556.15 L271.61,553.85 L271.74,551.5 L271.87,549.09 L272,546.63 L272.13,544.13 L272.26,541.58 L272.39,539 L272.52,536.38 L272.65,533.73 L272.78,531.06 L272.92,528.36 L273.05,525.65 L273.18,522.93 L273.31,520.2 L273.44,517.47 L273.57,514.75 L273.7,512.04 L273.83,509.35 L273.96,506.68 L274.09,504.05 L274.22,501.45 L274.35,498.89 L274.48,496.39 L274.61,493.94 L274.74,491.56 L274.87,489.24 L275,487.01 L275.13,484.85 L275.26,482.78 L275.39,480.81 L275.52,478.94 L275.65,477.17 L275.78,475.51 L275.91,473.97 L276.04,472.55 L276.17,471.25 L276.3,470.09 L276.43,469.05 L276.56,468.15 L276.69,467.39 L276.82,466.77 L276.95,466.3 L277.08,465.96 L277.21,465.77 L277.34,465.73 L277.47,465.84 L277.6,466.09 L277.73,466.48 L277.86,467.02 L277.99,467.7 L278.12,468.52 L278.25,469.47 L278.38,470.56 L278.51,471.78 L278.65,473.13 L278.78,474.6 L278.91,476.19 L279.04,477.9 L279.17,479.71 L279.3,481.63 L279.43,483.64 L279.56,485.75 L279.69,487.94 L279.82,490.21 L279.95,492.55 L280.08,494.96 L280.21,497.44 L280.34,499.96 L280.47,502.54 L280.6,505.15 L280.73,507.8 L280.86,510.48 L280.99,513.18 L281.12,515.9 L281.25,518.62 L281.38,521.35 L281.51,524.08 L281.64,526.79 L281.77,529.5 L281.9,532.19 L282.03,534.85 L282.16,537.49 L282.29,540.09 L282.42,542.66 L282.55,545.19 L282.68,547.67 L282.81,550.11 L282.94,552.49 L283.07,554.83 L283.2,557.11 L283.33,559.33 L283.46,561.49 L283.59,563.59 L283.72,565.63 L283.85,567.61 L283.98,569.52 L284.11,571.37 L284.24,573.15 L284.38,574.87 L284.51,576.52 L284.64,578.11 L284.77,579.63 L284.9,581.09 L285.03,582.49 L285.16,583.82 L285.29,585.1 L285.42,586.31 L285.55,587.47 L285.68,588.56 L285.81,589.61 L285.94,590.6 L286.07,591.53 L286.2,592.42 L286.33,593.25 L286.46,594.04 L286.59,594.78 L286.72,595.48 L286.85,596.14 L286.98,596.76 L287.11,597.34 L287.24,597.88 L287.37,598.38 L287.5,598.86 L287.63,599.3 L287.76,599.71 L287.89,600.09 L288.02,600.44 L288.15,600.77 L288.28,601.08 L288.41,601.36 L288.54,601.63 L288.67,601.87 L288.8,602.09 L288.93,602.3 L289.06,602.49 L289.19,602.66 L289.32,602.82 L289.45,602.97 L289.58,603.1 L289.71,603.23 L289.84,603.34 L289.97,603.44 L290.1,603.53 L290.24,603.62 L290.37,603.7 L290.5,603.77 L290.63,603.83 L290.76,603.89 L290.89,603.94 L291.02,603.99 L291.15,604.03 L291.28,604.07 L291.41,604.11 L291.54,604.14 L291.67,604.17 L291.8,604.19 L291.93,604.22 L292.06,604.24 L292.19,604.26 L292.32,604.27 L292.45,604.29 L292.58,604.3 L292.71,604.31 L292.84,604.32 L292.97,604.33 L293.1,604.34 L293.23,604.35 L293.36,604.35 L293.49,604.36 L293.62,604.36 L293.75,604.37 L293.88,604.37 L294.01,604.38 L294.14,604.38 L294.27,604.38 L294.4,604.38 L294.53,604.39 L294.66,604.39 L294.79,604.39 L294.92,604.39 L295.05,604.39 L295.18,604.39 L295.31,604.39 L295.44,604.39 L295.57,604.4 L295.7,604.4 L295.83,604.4 L295.97,604.4 L296.1,604.4 L296.23,604.4 L296.36,604.4 L296.49,604.4 L296.62,604.4 L296.75,604.4 L296.88,604.4 L297.01,604.4 L297.14,604.4 L297.27,604.4 L297.4,604.4 L297.53,604.4 L297.66,604.4 L297.79,604.4 L297.92,604.4 L298.05,604.4 L298.18,604.4 L298.31,604.4 L298.44,604.4 L298.57,604.4 L298.7,604.4 L298.83,604.4 L298.96,604.4 L299.09,604.4 L299.22,604.4 L299.35,604.4 L299.48,604.4 L299.61,604.4 L299.74,604.4 L299.87,604.4 L300,604.4 L300.13,604.4 L300.26,604.4 L300.39,604.4 L300.52,604.4 L300.65,604.4 L300.78,604.4 L300.91,604.4 L301.04,604.4 L301.17,604.4 L301.3,604.4 L301.43,604.4 L301.56,604.4 L301.7,604.4 L301.83,604.4 L301.96,604.4 L302.09,604.4 L302.22,604.4 L302.35,604.4 L302.48,604.4 L302.61,604.4 L302.74,604.4 L302.87,604.4 L303,604.4 L303.13,604.4 L303.26,604.4 L303.39,604.4 L303.52,604.4 L303.65,604.4 L303.78,604.4 L303.91,604.4 L304.04,604.4 L304.17,604.4 L304.3,604.4 L304.43,604.4 L304.56,604.4 L304.56,604.4 L306.95,604.4 L309.35,604.4 L311.74,604.4 L314.13,604.4 L316.52,604.4 L318.92,604.4 L321.31,604.4 L323.7,604.4 L326.1,604.4 L328.49,604.4 L330.88,604.4 L333.27,604.4 L335.67,604.4 L338.06,604.4 L340.45,604.4 L342.85,604.4 L345.24,604.4 L347.63,604.4 L350.02,604.4" fill="none" stroke="#000" stroke-width="1.9" stroke-linejoin="round"/>
<path d="M71.89,604.4 L73.12,604.4 L74.34,604.4 L75.57,604.4 L76.8,604.4 L78.03,604.4 L79.26,604.4 L80.48,604.4 L81.71,604.4 L82.94,604.4 L84.17,604.4 L85.39,604.4 L86.62,604.4 L87.85,604.4 L87.97,604.4M108.11,604.4 L109.33,604.4 L110.56,604.4 L111.79,604.4 L113.02,604.4 L114.24,604.4 L115.47,604.4 L116.7,604.4 L117.93,604.4 L119.15,604.4 L120.38,604.4 L121.61,604.4 L122.84,604.4 L123.45,604.4M144.08,604.4 L145.3,604.4 L146.53,604.4 L147.76,604.4 L148.99,604.4 L150.21,604.4 L151.44,604.4 L152.67,604.4 L153.9,604.4 L155.12,604.4 L156.35,604.4 L157.58,604.4 L158.81,604.4 L160.04,604.4 L161.26,604.4 L162.49,604.4 L163.72,604.4 L164.95,604.4 L166.17,604.4 L167.4,604.4 L167.89,604.4M189.01,604.4 L190.24,604.4 L191.46,604.4 L192.69,604.4 L193.92,604.4 L195.15,604.4 L196.37,604.4 L197.6,604.4 L198.83,604.4 L200.06,604.4 L201.28,604.4 L202.51,604.4 L203.74,604.4 L203.98,604.4M224.12,604.4 L225.35,604.4 L226.57,604.4 L227.8,604.4 L229.03,604.4 L230.26,604.4 L231.48,604.4 L232.71,604.4 L233.94,604.4 L235.17,604.4 L236.39,604.4 L237.62,604.4 L238.85,604.4 L240.08,604.4 L241.31,604.4 L242.53,604.4 L243.76,604.4 L244.99,604.4 L246.22,604.4 L247.44,604.4 L247.93,604.4M262.01,604.3 L262.09,604.3 L262.18,604.29 L262.27,604.28 L262.35,604.27 L262.44,604.26 L262.53,604.24 L262.61,604.23 L262.7,604.22 L262.79,604.2 L262.87,604.19 L262.96,604.17 L263.05,604.15 L263.13,604.13 L263.22,604.11 L263.31,604.09 L263.39,604.06 L263.48,604.04 L263.57,604.01 L263.65,603.98 L263.74,603.95 L263.83,603.91 L263.91,603.87 L264,603.84 L264.09,603.79 L264.17,603.75 L264.26,603.7 L264.34,603.65 L264.43,603.6 L264.52,603.54 L264.6,603.48 L264.69,603.41 L264.78,603.34 L264.86,603.27 L264.95,603.19 L265.04,603.11 L265.12,603.02 L265.21,602.93 L265.3,602.83 L265.38,602.73 L265.47,602.62 L265.56,602.5 L265.64,602.38 L265.73,602.25 L265.82,602.11 L265.9,601.96 L265.99,601.81 L266.08,601.65 L266.16,601.48 L266.25,601.3 L266.34,601.11 L266.42,600.91 L266.51,600.7 L266.6,600.48 L266.68,600.25 L266.77,600 L266.86,599.75 L266.94,599.48 L267.03,599.2 L267.12,598.9 L267.2,598.6 L267.29,598.27 L267.38,597.93 L267.46,597.58 L267.55,597.21 L267.64,596.83 L267.72,596.42 L267.81,596 L267.9,595.57 L267.98,595.11 L268.07,594.63 L268.07,594.63M270.31,574.13 L270.4,572.97 L270.49,571.79 L270.57,570.58 L270.66,569.34 L270.75,568.07 L270.83,566.77 L270.92,565.45 L271.01,564.09 L271.09,562.71 L271.18,561.31 L271.27,559.87 L271.35,558.41 L271.38,557.97M272.46,537.67 L272.55,535.92 L272.63,534.16 L272.72,532.39 L272.81,530.6 L272.89,528.81 L272.98,527.01 L273.07,525.2 L273.15,523.39 L273.24,521.58 L273.24,521.58M274.2,501.76 L274.29,500.05 L274.37,498.37 L274.46,496.7 L274.55,495.06 L274.63,493.45 L274.72,491.87 L274.81,490.31 L274.89,488.79 L274.98,487.3 L275.07,485.85 L275.08,485.71M276.03,472.67 L276.12,471.79 L276.2,470.96 L276.29,470.19 L276.38,469.48 L276.46,468.83 L276.55,468.24 L276.64,467.7 L276.72,467.24 L276.81,466.83 L276.9,466.49 L276.98,466.21 L277.06,466.01M277.57,466.01 L277.66,466.23 L277.74,466.52 L277.83,466.87 L277.92,467.28 L278,467.75 L278.09,468.29 L278.18,468.89 L278.26,469.55 L278.35,470.26 L278.44,471.04 L278.52,471.87 L278.61,472.76 L278.7,473.7 L278.78,474.7 L278.87,475.75 L278.9,476.08M280.15,496.37 L280.24,498.03 L280.33,499.71 L280.41,501.42 L280.5,503.14 L280.59,504.88 L280.67,506.64 L280.76,508.41 L280.84,510.19 L280.93,511.98 L280.93,511.98M281.88,531.67 L281.96,533.45 L282.05,535.22 L282.14,536.97 L282.22,538.71 L282.31,540.43 L282.4,542.14 L282.48,543.83 L282.57,545.51 L282.66,547.16 L282.72,548.31M283.89,568.2 L283.98,569.46 L284.07,570.7 L284.15,571.91 L284.24,573.09 L284.33,574.24 L284.41,575.36 L284.5,576.46 L284.59,577.52 L284.67,578.56 L284.76,579.57 L284.85,580.55 L284.93,581.5 L285.02,582.42 L285.11,583.32 L285.19,584.19 L285.26,584.86M287.44,598.63 L287.52,598.93 L287.61,599.23 L287.7,599.51 L287.78,599.77 L287.87,600.03 L287.96,600.27 L288.04,600.5 L288.13,600.72 L288.22,600.93 L288.3,601.13 L288.39,601.31 L288.48,601.49 L288.56,601.66 L288.65,601.82 L288.74,601.98 L288.82,602.12 L288.91,602.26 L289,602.39 L289.08,602.51 L289.17,602.63 L289.26,602.74 L289.34,602.84 L289.43,602.94 L289.52,603.03 L289.6,603.12 L289.69,603.2 L289.77,603.28 L289.86,603.35 L289.95,603.42 L290.03,603.48 L290.12,603.55 L290.21,603.6 L290.29,603.66 L290.38,603.71 L290.47,603.75 L290.55,603.8 L290.64,603.84 L290.73,603.88 L290.81,603.91 L290.9,603.95 L290.99,603.98 L291.07,604.01 L291.16,604.04 L291.25,604.06 L291.33,604.09 L291.42,604.11 L291.51,604.13 L291.59,604.15 L291.68,604.17 L291.77,604.19 L291.85,604.2 L291.94,604.22 L292.03,604.23 L292.11,604.24 L292.2,604.26 L292.29,604.27 L292.37,604.28 L292.46,604.29 L292.55,604.3 L292.63,604.3 L292.72,604.31 L292.81,604.32 L292.89,604.33 L292.98,604.33 L293.07,604.34 L293.15,604.34 L293.24,604.35 L293.33,604.35 L293.41,604.36 L293.5,604.36 L293.59,604.36 L293.67,604.37 L293.76,604.37 L293.85,604.37 L293.93,604.37 L294.02,604.38 L294.11,604.38 L294.19,604.38 L294.28,604.38 L294.37,604.38 L294.45,604.38 L294.54,604.39 L294.63,604.39 L294.71,604.39 L294.8,604.39 L294.89,604.39 L294.97,604.39 L295,604.39M315.61,604.4 L316.75,604.4 L317.89,604.4 L319.03,604.4 L320.17,604.4 L321.31,604.4 L322.45,604.4 L323.59,604.4 L324.73,604.4 L325.87,604.4 L327.01,604.4 L328.15,604.4 L329.29,604.4 L329.51,604.4M338.29,604.4 L339.43,604.4 L340.57,604.4 L341.71,604.4 L342.85,604.4 L343.99,604.4 L345.13,604.4 L346.26,604.4 L347.4,604.4 L347.97,604.4" fill="none" stroke="#ec0a0f" stroke-width="3.7"/>
</g>
<line x1="79.4" y1="604.1" x2="79.4" y2="607.1" stroke="#444" stroke-width="1"/>
<text x="79.4" y="630.3" font-size="26.5" text-anchor="middle">-3.0</text>
<line x1="144.35" y1="604.1" x2="144.35" y2="607.1" stroke="#444" stroke-width="1"/>
<text x="144.35" y="630.3" font-size="26.5" text-anchor="middle">-1.5</text>
<line x1="209.3" y1="604.1" x2="209.3" y2="607.1" stroke="#444" stroke-width="1"/>
<text x="209.3" y="630.3" font-size="26.5" text-anchor="middle">0.0</text>
<line x1="274.25" y1="604.1" x2="274.25" y2="607.1" stroke="#444" stroke-width="1"/>
<text x="274.25" y="630.3" font-size="26.5" text-anchor="middle">1.5</text>
<line x1="339.2" y1="604.1" x2="339.2" y2="607.1" stroke="#444" stroke-width="1"/>
<text x="339.2" y="630.3" font-size="26.5" text-anchor="middle">3.0</text>
<line x1="66.35" y1="604.4" x2="69.35" y2="604.4" stroke="#666" stroke-width="1"/>
<text x="64.55" y="611.7" font-size="26.5" text-anchor="end">0</text>
<line x1="66.35" y1="539.96" x2="69.35" y2="539.96" stroke="#666" stroke-width="1"/>
<text x="64.55" y="547.26" font-size="26.5" text-anchor="end">2</text>
<line x1="66.35" y1="475.51" x2="69.35" y2="475.51" stroke="#666" stroke-width="1"/>
<text x="64.55" y="482.81" font-size="26.5" text-anchor="end">4</text>
<text transform="translate(81.7,483.7) scale(1,1.09)" class="sb" font-size="21">E</text>
<text transform="translate(201.95,662.5) scale(1.14,1)" font-size="26.5">θ</text>
<text transform="translate(33.9,601.25) rotate(-90)" font-size="27.5"><tspan font-size="27.5">|ψ</tspan><tspan font-size="18" dy="6.2">R</tspan><tspan font-size="27.5" dy="-6.2">(</tspan><tspan font-size="27.5" font-style="italic">t</tspan><tspan font-size="18" dy="6.2">0</tspan><tspan font-size="27.5" dy="-6.2">)|</tspan><tspan font-size="17.5" dy="-11.5">2</tspan><tspan font-size="27.5" dy="11.5">,</tspan><tspan font-size="27.5">|φ</tspan><tspan font-size="18" dy="6.2">R</tspan><tspan font-size="27.5" dy="-6.2">(</tspan><tspan font-size="27.5" font-style="italic">t</tspan><tspan font-size="18" dy="6.2">0</tspan><tspan font-size="27.5" dy="-6.2">)|</tspan><tspan font-size="17.5" dy="-11.5">2</tspan></text>
<clipPath id="clipB"><rect x="468.2" y="40.7" width="277.5" height="145.7"/></clipPath>
<g clip-path="url(#clipB)">
<path d="M468.4,116.2 L470.91,158.8 L472.77,114.91 L475.45,171.86 L477.14,113.89 L479.66,170.1 L481.51,115.39 L483.69,161 L485.88,114.39 L488.3,159.11 L490.25,113.95 L492.66,164.07 L494.62,114.74 L496.2,165.03 L499,115.1 L501.46,164.3 L503.37,114.48 L505.43,166.07 L507.74,113.75 L510.34,162.76 L512.11,114.24 L514.54,165.2 L516.48,113.28 L518.59,163.32 L520.85,113.73 L523.1,166.57 L525.22,113.45 L527.37,156.94 L529.59,113.33 L531.67,170.13 L533.96,111.19 L536.27,164.84 L538.33,111.51 L540.4,156.34 L542.7,112.7 L545.34,154.86 L547.07,111.19 L549.39,162.41 L551.44,111.93 L554.12,166.78 L555.81,110.08 L558.08,164.93 L560.18,109.27 L562.22,165.39 L564.55,109.38 L566.96,161.66 L568.93,108.2 L571.41,152.59 L573.3,109.01 L575.01,153.51 L577.67,107.94 L580.17,161.18 L582.04,106.73 L584.65,152.1 L586.41,104.8 L588.35,144.34 L590.78,103.96 L593.23,147.44 L595.15,100.83 L597.56,141.54 L599.52,98.61 L602.13,135.01 L603.9,92.61 L604.87,123.96 L605.56,96.32 L606.26,53.78 L606.95,49.41 L607.64,53.78 L608.34,96.32 L609.03,87.72 L610.14,121.77 L612.63,93.18 L615.82,128.53 L617,98.17 L619.15,139.66 L621.37,102.23 L623.65,148.29 L625.74,104.33 L628.05,148.08 L630.11,105.22 L632.18,145.5 L634.48,107.08 L637.05,159.27 L638.86,109.49 L641.35,153.92 L643.23,108.25 L645.31,161.51 L647.6,109 L649.88,164.89 L651.97,110.32 L653.72,162.68 L656.34,110.25 L658.55,168.76 L660.71,111.43 L663.72,157.67 L665.08,110.97 L667.46,160.88 L669.45,112.59 L671.34,157.25 L673.82,111.23 L676.42,170.18 L678.19,113.25 L680.31,157.63 L682.56,113.1 L684.62,165 L686.93,111.66 L689.39,161.67 L691.3,112.12 L692.88,157.83 L695.67,113.8 L698.13,165.35 L700.04,113.61 L703.07,159.52 L704.41,112.67 L706.81,173.53 L708.79,113.87 L711.1,166.15 L713.16,114.38 L715.39,165.51 L717.53,113.43 L719.87,164.5 L721.9,113.87 L724.53,157.96 L726.27,113.86 L728.51,165.38 L730.64,115.69 L732.81,170.97 L735.01,115.82 L736.8,156.93 L739.38,114.13 L742.02,167.15 L743.75,114.7 L746.1,158.21 L748.12,115.54 L750.34,157.52" fill="none" stroke="#a4a4a4" stroke-width="0.95"/>
<path d="M468.57,119.02L468.85,123.74M469.24,130.43L469.59,136.41M469.94,142.28L470.2,146.76M470.49,151.68L470.76,156.24M472.77,114.91L472.8,115.57M473.14,122.8L473.46,129.55M473.7,134.56L473.93,139.41M474.19,144.96L474.51,151.85M474.79,157.85L475.09,164.06M475.33,169.17L475.45,171.86M477.14,113.89L477.22,115.56M477.55,122.91L477.79,128.27M478.06,134.39L478.33,140.41M478.56,145.6L478.79,150.78M479.05,156.56L479.27,161.45M479.55,167.58L479.66,170.1M481.51,115.39L481.62,117.66M481.86,122.62L482.14,128.61M482.4,133.9L482.62,138.62M482.85,143.37L483.06,147.68M483.39,154.6L483.67,160.54M485.88,114.39L486.04,117.28M486.42,124.29L486.75,130.36M487,135.08L487.33,141.2M487.6,146.15L487.96,152.8M490.28,114.48L490.54,119.92M490.75,124.29L491.02,129.94M491.33,136.4L491.62,142.49M491.97,149.69L492.23,155.12M492.51,160.9L492.66,164.07M494.62,114.74L494.75,118.89M494.97,125.77L495.13,130.81M495.34,137.72L495.49,142.25M495.68,148.51L495.83,153.38M496.03,159.48L496.2,165.03M499,115.1L499.21,119.32M499.58,126.74L499.93,133.65M500.21,139.28L500.42,143.57M500.74,149.91L501.03,155.57M501.28,160.64L501.46,164.3M503.57,119.68L503.76,124.4M503.96,129.38L504.16,134.27M504.46,141.82L504.74,148.76M504.93,153.64L505.14,158.81M505.35,164L505.43,166.07M507.74,113.75L508.06,119.77M508.43,126.78L508.67,131.36M508.94,136.44L509.23,141.9M509.57,148.21L509.85,153.56M510.23,160.68L510.34,162.76M512.11,114.24L512.26,117.35M512.53,123.07L512.77,128.14M513,132.87L513.29,139.02M513.57,144.83L513.87,151.07M514.16,157.18L514.42,162.63M516.66,117.52L516.85,122.11M517.09,127.8L517.28,132.27M517.52,137.97L517.75,143.4M518.06,150.74L518.35,157.55M521.01,117.41L521.2,121.9M521.46,128.18L521.67,133.1M521.85,137.28L522.09,142.84M522.3,147.85L522.49,152.4M522.75,158.49L523.05,165.46M525.22,113.45L525.43,117.62M525.67,122.46L525.91,127.36M526.26,134.42L526.57,140.67M526.79,145.14L527.05,150.5M527.32,155.9L527.37,156.94M529.59,113.33L529.68,115.74M529.91,122.04L530.13,127.99M530.34,133.76L530.55,139.58M530.71,144.1L530.91,149.58M531.07,153.74L531.28,159.5M531.51,165.97L531.67,170.13M534.08,113.87L534.3,119.2M534.5,123.72L534.79,130.39M534.98,134.95L535.19,139.82M535.47,146.21L535.76,153.1M536.09,160.7L536.27,164.84M538.63,118.04L538.92,124.23M539.22,130.8L539.53,137.63M539.85,144.57L540.15,150.95M543.08,118.81L543.4,123.81M543.86,131.3L544.16,135.97M544.62,143.43L545,149.44M547.07,111.19L547.31,116.52M547.6,122.89L547.82,127.77M548.06,132.97L548.25,137.21M548.55,143.84L548.83,150.07M549.14,157.08L549.37,161.99M551.59,114.97L551.82,119.72M552.06,124.58L552.33,130.06M552.59,135.37L552.82,140.04M553.1,145.89L553.44,152.79M553.64,156.99L553.91,162.46M555.81,110.08L555.92,112.59M556.23,120.19L556.43,124.97M556.66,130.56L556.85,135.14M557.1,141.12L557.3,146.09M557.54,151.79L557.81,158.4M560.18,109.27L560.29,112.22M560.5,118.07L560.76,125.05M560.91,129.18L561.11,134.83M561.28,139.39L561.52,146.18M561.71,151.19L561.93,157.33M562.15,163.47L562.22,165.39M564.55,109.38L564.7,112.59M564.97,118.32L565.22,123.75M565.55,131.11L565.84,137.27M566.16,144.34L566.39,149.35M566.63,154.52L566.92,160.74M568.93,108.2L569.02,109.87M569.3,114.81L569.58,119.9M569.87,125.11L570.26,132.04M570.52,136.7L570.76,140.97M571.07,146.59L571.41,152.59M573.46,113.19L573.72,119.93M573.92,125.12L574.09,129.57M574.37,136.83L574.62,143.37M574.85,149.35L575.01,153.51M577.95,113.87L578.17,118.65M578.47,125.09L578.68,129.37M578.98,135.82L579.3,142.6M579.61,149.3L579.86,154.46M580.1,159.63L580.17,161.18M582.04,106.73L582.23,110.13M582.59,116.39L582.96,122.75M583.4,130.35L583.78,137.09M584.1,142.67L584.41,147.94M586.41,104.8L586.62,109.19M586.87,114.17L587.18,120.44M587.49,126.92L587.72,131.52M587.99,137.12L588.21,141.6M590.78,103.96L591,107.9M591.4,114.93L591.72,120.71M592.06,126.7L592.34,131.73M592.68,137.74L592.95,142.46M595.15,100.83L595.19,101.49M595.5,106.81L595.76,111.12M596.16,117.85L596.53,124.22M596.82,129.05L597.23,135.95M599.52,98.61L599.76,101.97M600.23,108.54L600.61,113.89M601.06,120.15L601.49,126.1M601.96,132.71L602.13,135.01M603.9,92.61L604,95.9M604.19,102.07L604.36,107.52M604.5,112.21L604.69,118.12M604.84,122.92L604.87,123.96M609.17,92.02L609.36,97.73M609.55,103.49L609.76,110.11M609.9,114.51L610.11,120.68M612.63,93.18L612.86,95.76M613.27,100.32L613.7,104.99M614.35,112.26L614.75,116.72M615.4,123.9L615.82,128.53M617.01,98.33L617.27,103.3M617.6,109.78L617.88,115.23M618.11,119.5L618.42,125.58M618.79,132.71L619.03,137.36M621.73,109.49L622.07,116.39M622.35,121.99L622.62,127.4M622.98,134.68L623.29,141.05M623.51,145.44L623.65,148.29M625.74,104.33L625.95,108.18M626.27,114.29L626.61,120.71M626.91,126.44L627.19,131.79M627.46,136.94L627.82,143.73M630.11,105.22L630.16,106.17M630.49,112.53L630.73,117.15M631.04,123.16L631.32,128.71M631.53,132.84L631.82,138.51M632.08,143.57L632.18,145.5M634.48,107.08L634.55,108.32M634.81,113.76L635.1,119.7M635.38,125.28L635.71,132.13M635.98,137.62L636.27,143.43M636.56,149.38L636.77,153.62M638.86,109.49L639.07,113.4M639.48,120.56L639.85,127.21M640.12,132.08L640.5,138.79M640.86,145.26L641.24,152.03M643.23,108.25L643.36,111.59M643.63,118.47L643.82,123.5M644.1,130.53L644.27,134.85M644.56,142.42L644.74,146.93M644.97,152.97L645.16,157.78M647.6,109L647.7,111.55M648,118.78L648.19,123.56M648.41,129.01L648.62,134.1M648.85,139.71L649.1,145.76M649.41,153.35L649.68,160.07M651.97,110.32L652.01,111.49M652.18,116.63L652.38,122.62M652.62,129.73L652.79,134.9M653.04,142.48L653.21,147.39M653.38,152.62L653.61,159.54M656.34,110.25L656.49,114.32M656.76,121.49L657.02,128.35M657.24,134.22L657.49,140.71M657.67,145.46L657.83,149.71M658.09,156.63L658.27,161.26M658.5,167.35L658.55,168.76M661.04,116.58L661.42,122.35M661.75,127.5L662.11,132.91M662.39,137.23L662.74,142.62M663.1,148.23L663.39,152.58M663.69,157.29L663.72,157.67M665.08,110.97L665.3,115.5M665.55,120.77L665.78,125.58M666.13,132.99L666.41,138.93M666.77,146.49L667.09,153.2M667.37,158.91L667.46,160.88M669.64,116.98L669.83,121.53M670.03,126.38L670.26,131.77M670.52,137.92L670.71,142.21M670.95,148.02L671.19,153.64M673.82,111.23L674.1,117.62M674.38,123.94L674.66,130.29M674.99,137.7L675.2,142.62M675.42,147.58L675.67,153.15M675.93,159.07L676.14,163.75M676.36,168.78L676.42,170.18M678.3,115.62L678.54,120.66M678.78,125.56L679.05,131.28M679.36,137.79L679.61,142.97M679.89,148.83L680.17,154.67M682.56,113.1L682.7,116.47M682.95,122.85L683.17,128.37M683.35,133.01L683.57,138.52M683.75,143.2L684.02,149.93M684.31,157.36L684.55,163.33M686.93,111.66L687.01,113.22M687.24,117.86L687.45,122.1M687.65,126.35L687.93,131.94M688.15,136.38L688.37,140.89M688.58,145.27L688.81,149.84M689.11,156.07L689.39,161.67M691.3,112.12L691.36,113.84M691.52,118.37L691.7,123.51M691.91,129.66L692.13,136.17M692.3,141.18L692.53,147.83M692.71,152.95L692.88,157.83M695.75,115.45L696,120.74M696.28,126.52L696.48,130.8M696.78,137.06L697.08,143.35M697.41,150.18L697.69,156.13M698.02,163.08L698.13,165.35M700.44,119.67L700.85,125.83M701.15,130.42L701.53,136.15M702.02,143.58L702.36,148.84M702.78,155.19L703.07,159.52M704.41,112.67L704.49,114.66M704.66,118.94L704.92,125.59M705.2,132.7L705.43,138.51M705.6,142.88L705.83,148.66M706.1,155.54L706.29,160.38M706.56,167.19L706.8,173.3M708.79,113.87L708.99,118.41M709.24,124.03L709.48,129.58M709.73,135.15L709.96,140.31M710.26,147.1L710.56,153.91M710.88,161.14L711.07,165.52M713.16,114.38L713.34,118.5M713.67,126.1L713.97,132.95M714.21,138.47L714.51,145.36M714.76,151.14L714.99,156.36M715.25,162.3L715.39,165.51M717.53,113.43L717.77,118.79M718.04,124.62L718.24,129.09M718.43,133.24L718.74,139.86M718.97,144.95L719.23,150.6M719.57,158.09L719.82,163.51M721.9,113.87L722.17,118.37M722.58,125.36L722.88,130.32M723.17,135.24L723.49,140.51M723.86,146.72L724.23,152.94M726.27,113.86L726.35,115.64M726.67,123.18L726.93,129.16M727.23,136.05L727.48,141.75M727.71,146.91L727.91,151.68M728.25,159.33L728.51,165.38M730.79,119.43L731,124.87M731.29,132.29L731.49,137.29M731.66,141.77L731.94,148.74M732.14,153.89L732.31,158.12M732.52,163.6L732.72,168.65M735.01,115.82L735.18,119.64M735.46,126.25L735.72,132.07M736.03,139.3L736.33,146.12M736.55,151.3L736.74,155.75M739.38,114.13L739.52,116.95M739.82,122.91L740.04,127.29M740.33,133.21L740.56,137.85M740.79,142.44L741,146.68M741.33,153.32L741.68,160.29M741.9,164.82L742.02,167.15M744.1,121.12L744.37,126.19M744.77,133.51L745.05,138.68M745.4,145.34L745.64,149.69M745.97,155.84L746.1,158.21M748.12,115.54L748.16,116.3M748.39,120.68L748.7,126.57M749.06,133.34L749.32,138.14M749.61,143.76L749.94,149.85M750.29,156.48L750.34,157.52" fill="none" stroke="#e40e18" stroke-width="2.6" stroke-linecap="round"/>
<path d="M606.26,53.78L606.11,62.87M605.93,73.78L605.81,81.05M607.64,53.78L607.79,62.87M607.97,73.78L608.09,81.05" fill="none" stroke="#e40e18" stroke-width="2.3"/>
<path d="M468.2,110.93 L470.28,110.83 L472.36,110.74 L474.44,110.64 L476.52,110.54 L478.61,110.44 L480.69,110.34 L482.77,110.23 L484.85,110.13 L486.93,110.02 L489.01,109.91 L491.09,109.8 L493.18,109.69 L495.26,109.57 L497.34,109.45 L499.42,109.33 L501.5,109.21 L503.58,109.09 L505.66,108.96 L507.74,108.83 L509.82,108.7 L511.91,108.56 L513.99,108.42 L516.07,108.28 L518.15,108.14 L520.23,107.99 L522.31,107.84 L524.39,107.68 L526.48,107.52 L528.56,107.36 L530.64,107.19 L532.72,107.02 L534.8,106.84 L536.88,106.66 L538.96,106.47 L541.04,106.28 L543.12,106.08 L545.21,105.87 L547.29,105.66 L549.37,105.44 L551.45,105.21 L553.53,104.98 L555.61,104.73 L557.69,104.47 L559.77,104.21 L561.86,103.93 L563.94,103.64 L566.02,103.33 L568.1,103.01 L570.18,102.67 L572.26,102.32 L574.34,101.94 L576.42,101.53 L578.51,101.1 L580.59,100.64 L582.67,100.15 L584.75,99.6 L586.83,99.01 L588.91,98.36 L590.99,97.64 L593.08,96.82 L593.21,96.76 L593.35,96.7 L593.49,96.64 L593.63,96.58 L593.77,96.52 L593.91,96.46 L594.05,96.4 L594.18,96.33 L594.32,96.27 L594.46,96.21 L594.6,96.14 L594.74,96.08 L594.88,96.01 L595.02,95.95 L595.16,95.88 L595.29,95.81 L595.43,95.74 L595.57,95.67 L595.71,95.6 L595.85,95.53 L595.99,95.46 L596.13,95.39 L596.27,95.31 L596.4,95.24 L596.54,95.16 L596.68,95.09 L596.82,95.01 L596.96,94.93 L597.1,94.86 L597.24,94.78 L597.38,94.69 L597.51,94.61 L597.65,94.53 L597.79,94.45 L597.93,94.36 L598.07,94.28 L598.21,94.19 L598.35,94.1 L598.49,94.01 L598.62,93.92 L598.76,93.83 L598.9,93.73 L599.04,93.64 L599.18,93.54 L599.32,93.44 L599.46,93.34 L599.6,93.24 L599.74,93.14 L599.87,93.04 L600.01,92.93 L600.15,92.82 L600.29,92.71 L600.43,92.6 L600.57,92.49 L600.71,92.37 L600.85,92.26 L600.98,92.14 L601.12,92.01 L601.26,91.89 L601.4,91.76 L601.54,91.63 L601.68,91.5 L601.82,91.37 L601.96,91.23 L602.09,91.09 L602.23,90.95 L602.37,90.8 L602.51,90.66 L602.65,90.5 L602.79,90.35 L602.93,90.19 L603.07,90.02 L603.2,89.86 L603.34,89.68 L603.48,89.51 L603.62,89.33 L603.76,89.14 L603.9,88.95 L604.04,88.76 L604.17,88.55 L604.31,88.35 L604.45,88.13 L604.59,87.92 L604.73,87.69 L604.87,87.46 L605.01,87.22 L605.15,86.97 L605.29,86.71 L605.42,86.45 L605.56,86.18 L605.7,85.9 L605.84,85.61 L605.98,85.32 L606.12,85.01 L606.26,84.7 L606.39,84.38 L606.53,84.06 L606.67,83.74 L606.81,83.42 L606.95,83.1 L607.09,82.79 L607.23,82.5 L607.37,82.24 L607.5,82.01 L607.64,81.83 L607.78,81.7 L607.92,81.64 L608.06,81.64 L608.2,81.7 L608.34,81.83 L608.48,82.01 L608.62,82.24 L608.75,82.5 L608.89,82.79 L609.03,83.1 L609.17,83.42 L609.31,83.74 L609.45,84.06 L609.59,84.38 L609.73,84.7 L609.86,85.01 L610,85.32 L610.14,85.61 L610.28,85.9 L610.42,86.18 L610.56,86.45 L610.7,86.71 L610.84,86.97 L610.97,87.22 L611.11,87.46 L611.25,87.69 L611.39,87.92 L611.53,88.13 L611.67,88.35 L611.81,88.55 L611.95,88.76 L612.08,88.95 L612.22,89.14 L612.36,89.33 L612.5,89.51 L612.64,89.68 L612.78,89.86 L612.92,90.02 L613.06,90.19 L613.19,90.35 L613.33,90.5 L613.47,90.66 L613.61,90.8 L613.75,90.95 L613.89,91.09 L614.03,91.23 L614.16,91.37 L614.3,91.5 L614.44,91.63 L614.58,91.76 L614.72,91.89 L614.86,92.01 L615,92.14 L615.14,92.26 L615.28,92.37 L615.41,92.49 L615.55,92.6 L615.69,92.71 L615.83,92.82 L615.97,92.93 L616.11,93.04 L616.25,93.14 L616.38,93.24 L616.52,93.34 L616.66,93.44 L616.8,93.54 L616.94,93.64 L617.08,93.73 L617.22,93.83 L617.36,93.92 L617.5,94.01 L617.63,94.1 L617.77,94.19 L617.91,94.28 L618.05,94.36 L618.19,94.45 L618.33,94.53 L618.47,94.61 L618.61,94.69 L618.74,94.78 L618.88,94.86 L619.02,94.93 L619.16,95.01 L619.3,95.09 L619.44,95.16 L619.58,95.24 L619.72,95.31 L619.85,95.39 L619.99,95.46 L620.13,95.53 L620.27,95.6 L620.41,95.67 L620.55,95.74 L620.69,95.81 L620.83,95.88 L621.17,96.05 L623.28,96.97 L625.39,97.79 L627.5,98.51 L629.61,99.15 L631.73,99.74 L633.84,100.27 L635.95,100.77 L638.06,101.23 L640.17,101.66 L642.28,102.06 L644.39,102.43 L646.5,102.79 L648.61,103.12 L650.72,103.44 L652.83,103.75 L654.94,104.04 L657.05,104.32 L659.16,104.58 L661.27,104.84 L663.38,105.08 L665.5,105.32 L667.61,105.55 L669.72,105.77 L671.83,105.98 L673.94,106.18 L676.05,106.38 L678.16,106.58 L680.27,106.76 L682.38,106.94 L684.49,107.12 L686.6,107.29 L688.71,107.46 L690.82,107.62 L692.93,107.78 L695.04,107.94 L697.16,108.09 L699.27,108.24 L701.38,108.38 L703.49,108.52 L705.6,108.66 L707.71,108.79 L709.82,108.93 L711.93,109.06 L714.04,109.18 L716.15,109.31 L718.26,109.43 L720.37,109.55 L722.48,109.67 L724.59,109.78 L726.7,109.9 L728.81,110.01 L730.93,110.12 L733.04,110.22 L735.15,110.33 L737.26,110.43 L739.37,110.54 L741.48,110.64 L743.59,110.74 L745.7,110.83" fill="none" stroke="#1c1cb8" stroke-width="2.2" stroke-dasharray="7.6 11"/>
</g>
<rect x="468.2" y="40.7" width="277.5" height="145.7" fill="none" stroke="#777" stroke-width="1.4"/>
<line x1="468.2" y1="186.4" x2="745.7" y2="186.4" stroke="#505050" stroke-width="1.4"/>
<line x1="468.2" y1="40.7" x2="468.2" y2="186.4" stroke="#1a1a1a" stroke-width="1.9"/>
<line x1="465.4" y1="41.05" x2="468.2" y2="41.05" stroke="#222" stroke-width="1.1"/>
<line x1="465.4" y1="48.32" x2="468.2" y2="48.32" stroke="#222" stroke-width="1.1"/>
<line x1="465.4" y1="55.59" x2="468.2" y2="55.59" stroke="#222" stroke-width="1.1"/>
<line x1="465.4" y1="62.87" x2="468.2" y2="62.87" stroke="#222" stroke-width="1.1"/>
<line x1="465.4" y1="70.14" x2="468.2" y2="70.14" stroke="#222" stroke-width="1.1"/>
<line x1="465.4" y1="77.41" x2="468.2" y2="77.41" stroke="#222" stroke-width="1.1"/>
<line x1="465.4" y1="84.69" x2="468.2" y2="84.69" stroke="#222" stroke-width="1.1"/>
<line x1="465.4" y1="91.96" x2="468.2" y2="91.96" stroke="#222" stroke-width="1.1"/>
<line x1="465.4" y1="99.23" x2="468.2" y2="99.23" stroke="#222" stroke-width="1.1"/>
<line x1="465.4" y1="106.5" x2="468.2" y2="106.5" stroke="#222" stroke-width="1.1"/>
<line x1="465.4" y1="113.78" x2="468.2" y2="113.78" stroke="#222" stroke-width="1.1"/>
<line x1="465.4" y1="121.05" x2="468.2" y2="121.05" stroke="#222" stroke-width="1.1"/>
<line x1="465.4" y1="128.32" x2="468.2" y2="128.32" stroke="#222" stroke-width="1.1"/>
<line x1="465.4" y1="135.59" x2="468.2" y2="135.59" stroke="#222" stroke-width="1.1"/>
<line x1="465.4" y1="142.86" x2="468.2" y2="142.86" stroke="#222" stroke-width="1.1"/>
<line x1="465.4" y1="150.14" x2="468.2" y2="150.14" stroke="#222" stroke-width="1.1"/>
<line x1="465.4" y1="157.41" x2="468.2" y2="157.41" stroke="#222" stroke-width="1.1"/>
<line x1="465.4" y1="164.68" x2="468.2" y2="164.68" stroke="#222" stroke-width="1.1"/>
<line x1="465.4" y1="171.95" x2="468.2" y2="171.95" stroke="#222" stroke-width="1.1"/>
<line x1="465.4" y1="179.23" x2="468.2" y2="179.23" stroke="#222" stroke-width="1.1"/>
<line x1="465.4" y1="186.5" x2="468.2" y2="186.5" stroke="#222" stroke-width="1.1"/>
<line x1="468.2" y1="186.4" x2="468.2" y2="189.4" stroke="#555" stroke-width="1"/>
<text x="468.2" y="211.8" font-size="26.5" text-anchor="middle">-2</text>
<line x1="537.58" y1="186.4" x2="537.58" y2="189.4" stroke="#555" stroke-width="1"/>
<text x="537.58" y="211.8" font-size="26.5" text-anchor="middle">-1</text>
<line x1="606.95" y1="186.4" x2="606.95" y2="189.4" stroke="#555" stroke-width="1"/>
<text x="606.95" y="211.8" font-size="26.5" text-anchor="middle">0</text>
<line x1="676.33" y1="186.4" x2="676.33" y2="189.4" stroke="#555" stroke-width="1"/>
<text x="676.33" y="211.8" font-size="26.5" text-anchor="middle">1</text>
<line x1="745.7" y1="186.4" x2="745.7" y2="189.4" stroke="#555" stroke-width="1"/>
<text x="745.7" y="211.8" font-size="26.5" text-anchor="middle">2</text>
<line x1="502.89" y1="186.4" x2="502.89" y2="188.4" stroke="#555" stroke-width="1"/>
<line x1="572.26" y1="186.4" x2="572.26" y2="188.4" stroke="#555" stroke-width="1"/>
<line x1="641.64" y1="186.4" x2="641.64" y2="188.4" stroke="#555" stroke-width="1"/>
<line x1="711.01" y1="186.4" x2="711.01" y2="188.4" stroke="#555" stroke-width="1"/>
<text x="463.2" y="51.05" font-size="26.5" text-anchor="end">10<tspan font-size="17.5" dy="-12">0</tspan></text>
<text x="463.2" y="123.78" font-size="26.5" text-anchor="end">10<tspan font-size="17.5" dy="-12">-10</tspan></text>
<text x="463.2" y="196.5" font-size="26.5" text-anchor="end">10<tspan font-size="17.5" dy="-12">-20</tspan></text>
<text transform="translate(476.1,61.1) scale(1,1.09)" class="sb" font-size="21">B</text>
<text x="578.2" y="236.5" font-size="26.5"><tspan font-style="italic">p</tspan>/<tspan dx="2.3">10</tspan><tspan font-size="17.5" dy="-11.2">2</tspan></text>
<text transform="translate(393,174.35) rotate(-90)" font-size="27.5"><tspan font-size="27.5">|ψ</tspan><tspan font-size="18" dy="6.2">R</tspan><tspan font-size="27.5" dy="-6.2">(</tspan><tspan font-size="27.5" font-style="italic">t</tspan><tspan font-size="18" dy="6.2">0</tspan><tspan font-size="27.5" dy="-6.2">)|</tspan><tspan font-size="17.5" dy="-11.5">2</tspan><tspan font-size="27.5" dy="11.5">,</tspan><tspan font-size="27.5">|φ</tspan><tspan font-size="18" dy="6.2">R</tspan><tspan font-size="27.5" dy="-6.2">(</tspan><tspan font-size="27.5" font-style="italic">t</tspan><tspan font-size="18" dy="6.2">0</tspan><tspan font-size="27.5" dy="-6.2">)|</tspan><tspan font-size="17.5" dy="-11.5">2</tspan></text>
<clipPath id="clipD"><rect x="468.3" y="249.5" width="277.2" height="145.6"/></clipPath>
<g clip-path="url(#clipD)">
<path d="M468.5,324.95 L471.01,367.52 L472.87,323.66 L475.54,380.57 L477.23,322.64 L479.75,378.81 L481.6,324.14 L483.77,369.72 L485.96,323.14 L488.38,367.83 L490.33,322.7 L492.73,372.79 L494.7,323.49 L496.27,373.75 L499.06,323.85 L501.53,373.01 L503.43,323.23 L505.49,374.79 L507.79,322.5 L510.4,371.47 L512.16,322.99 L514.59,373.91 L516.53,322.03 L518.64,372.03 L520.89,322.48 L523.14,375.28 L525.26,322.2 L527.41,365.66 L529.62,322.08 L531.7,378.85 L533.99,319.95 L536.29,373.56 L538.36,320.26 L540.42,365.06 L542.72,321.45 L545.35,363.58 L547.09,319.94 L549.4,371.13 L551.45,320.68 L554.13,375.5 L555.82,318.83 L558.08,373.64 L560.18,318.03 L562.22,374.11 L564.55,318.13 L566.95,370.37 L568.92,316.96 L571.4,361.31 L573.28,317.77 L575,362.24 L577.65,316.69 L580.15,369.9 L582.01,315.48 L584.62,360.82 L586.38,313.56 L588.32,353.07 L590.75,312.72 L593.19,356.17 L595.11,309.59 L597.52,350.27 L599.48,307.37 L602.08,343.74 L603.85,301.37 L604.82,332.7 L605.51,305.08 L606.21,262.57 L606.9,258.21 L607.59,262.57 L608.29,305.08 L608.98,296.49 L610.09,330.52 L612.58,301.94 L615.76,337.27 L616.94,306.93 L619.09,348.4 L621.31,310.98 L623.58,357.01 L625.67,313.08 L627.98,356.8 L630.04,313.97 L632.11,354.23 L634.41,315.84 L636.96,367.99 L638.77,318.25 L641.26,362.65 L643.14,317 L645.22,370.23 L647.5,317.75 L649.78,373.6 L651.87,319.08 L653.62,371.4 L656.23,319 L658.44,377.47 L660.6,320.18 L663.6,366.39 L664.97,319.72 L667.35,369.59 L669.33,321.34 L671.22,365.97 L673.7,319.98 L676.29,378.89 L678.06,322 L680.18,366.35 L682.43,321.85 L684.48,373.71 L686.8,320.41 L689.25,370.38 L691.16,320.87 L692.73,366.55 L695.53,322.55 L697.98,374.07 L699.89,322.36 L702.91,368.24 L704.26,321.42 L706.65,382.23 L708.63,322.62 L710.94,374.87 L712.99,323.13 L715.22,374.23 L717.36,322.18 L719.7,373.22 L721.72,322.62 L724.35,366.68 L726.09,322.61 L728.33,374.1 L730.45,324.44 L732.63,379.68 L734.82,324.56 L736.61,365.65 L739.19,322.88 L741.82,375.86 L743.55,323.45 L745.9,366.93 L747.92,324.29 L750.14,366.24" fill="none" stroke="#a4a4a4" stroke-width="0.95"/>
<path d="M468.67,327.77L468.94,332.49M469.34,339.17L469.69,345.16M470.04,351.02L470.3,355.51M470.59,360.43L470.86,364.99M472.87,323.66L472.9,324.32M473.24,331.55L473.56,338.3M473.79,343.31L474.02,348.16M474.28,353.71L474.6,360.59M474.89,366.6L475.18,372.81M475.42,377.91L475.54,380.57M477.23,322.64L477.31,324.31M477.64,331.66L477.88,337.02M478.15,343.14L478.42,349.16M478.65,354.35L478.88,359.53M479.14,365.31L479.36,370.2M479.63,376.33L479.75,378.81M481.6,324.14L481.71,326.41M481.94,331.37L482.23,337.36M482.48,342.65L482.71,347.37M482.93,352.12L483.14,356.43M483.47,363.35L483.75,369.29M485.96,323.14L486.12,326.03M486.5,333.04L486.83,339.11M487.08,343.83L487.41,349.95M487.68,354.9L488.04,361.55M490.36,323.23L490.62,328.67M490.83,333.04L491.1,338.69M491.41,345.15L491.7,351.24M492.05,358.44L492.31,363.87M492.58,369.65L492.73,372.79M494.7,323.49L494.83,327.64M495.04,334.52L495.2,339.56M495.42,346.47L495.56,351M495.75,357.26L495.91,362.13M496.1,368.23L496.27,373.75M499.06,323.85L499.27,328.07M499.65,335.49L499.99,342.4M500.28,348.02L500.49,352.32M500.81,358.65L501.09,364.32M501.35,369.39L501.53,373.01M503.64,328.43L503.82,333.15M504.02,338.13L504.22,343.02M504.52,350.57L504.8,357.51M504.99,362.39L505.2,367.56M505.41,372.74L505.49,374.79M507.79,322.5L508.11,328.52M508.49,335.53L508.73,340.11M509,345.19L509.29,350.65M509.63,356.96L509.91,362.31M510.29,369.43L510.4,371.47M512.16,322.99L512.31,326.1M512.58,331.82L512.82,336.89M513.05,341.62L513.34,347.77M513.62,353.58L513.92,359.82M514.21,365.93L514.47,371.38M516.71,326.27L516.9,330.86M517.14,336.55L517.33,341.02M517.57,346.72L517.8,352.15M518.11,359.49L518.4,366.3M521.05,326.16L521.24,330.65M521.51,336.93L521.72,341.85M521.89,346.03L522.13,351.59M522.34,356.6L522.54,361.15M522.8,367.24L523.09,374.21M525.26,322.2L525.46,326.37M525.7,331.21L525.95,336.11M526.3,343.17L526.6,349.42M526.83,353.89L527.09,359.25M527.36,364.65L527.41,365.66M529.62,322.08L529.71,324.49M529.94,330.79L530.16,336.74M530.37,342.51L530.58,348.33M530.75,352.85L530.95,358.33M531.1,362.49L531.31,368.25M531.55,374.72L531.7,378.85M534.1,322.62L534.33,327.95M534.53,332.47L534.81,339.14M535.01,343.7L535.22,348.58M535.5,354.96L535.79,361.85M536.12,369.45L536.29,373.56M538.66,326.79L538.94,332.98M539.24,339.55L539.56,346.38M539.88,353.32L540.17,359.7M543.1,327.56L543.42,332.57M543.88,340.05L544.18,344.72M544.64,352.18L545.02,358.19M547.09,319.94L547.33,325.27M547.62,331.64L547.84,336.52M548.07,341.72L548.26,345.96M548.56,352.59L548.84,358.82M549.16,365.83L549.38,370.74M551.6,323.72L551.83,328.47M552.07,333.33L552.34,338.81M552.6,344.13L552.82,348.79M553.11,354.64L553.45,361.54M553.65,365.74L553.92,371.21M555.82,318.83L555.92,321.35M556.24,328.94L556.43,333.73M556.67,339.32L556.85,343.89M557.1,349.87L557.31,354.84M557.54,360.54L557.82,367.15M560.18,318.03L560.29,320.97M560.5,326.83L560.76,333.8M560.91,337.94L561.11,343.59M561.28,348.15L561.52,354.94M561.71,359.94L561.93,366.08M562.15,372.22L562.22,374.11M564.55,318.13L564.7,321.35M564.96,327.07L565.21,332.5M565.55,339.86L565.83,346.02M566.16,353.1L566.39,358.1M566.63,363.28L566.91,369.5M568.92,316.96L569.01,318.62M569.29,323.56L569.57,328.66M569.86,333.87L570.25,340.79M570.51,345.45L570.75,349.72M571.06,355.34L571.4,361.31M573.44,321.94L573.7,328.68M573.9,333.88L574.07,338.33M574.35,345.58L574.61,352.12M574.84,358.1L575,362.24M577.93,322.63L578.15,327.41M578.46,333.85L578.66,338.12M578.96,344.58L579.28,351.35M579.59,358.06L579.84,363.22M580.08,368.38L580.15,369.9M582.01,315.48L582.21,318.88M582.57,325.14L582.94,331.51M583.37,339.11L583.76,345.84M584.08,351.42L584.38,356.69M586.38,313.56L586.6,317.95M586.84,322.92L587.15,329.2M587.47,335.68L587.69,340.27M587.97,345.88L588.19,350.35M590.75,312.72L590.97,316.65M591.36,323.69L591.69,329.47M592.03,335.46L592.31,340.49M592.65,346.49L592.91,351.21M595.11,309.59L595.15,310.25M595.47,315.57L595.72,319.88M596.12,326.61L596.49,332.98M596.78,337.81L597.19,344.71M599.48,307.37L599.72,310.73M600.19,317.3L600.57,322.65M601.02,328.91L601.45,334.86M601.92,341.47L602.08,343.74M603.85,301.37L603.95,304.66M604.14,310.84L604.31,316.29M604.46,320.98L604.64,326.88M604.79,331.68L604.82,332.7M609.12,300.79L609.31,306.5M609.49,312.25L609.71,318.87M609.85,323.28L610.05,329.44M612.58,301.94L612.81,304.52M613.22,309.08L613.64,313.75M614.29,321.03L614.7,325.49M615.34,332.67L615.76,337.27M616.95,307.09L617.21,312.06M617.54,318.54L617.82,323.99M618.04,328.26L618.36,334.34M618.73,341.47L618.97,346.12M621.67,318.25L622.01,325.15M622.29,330.75L622.55,336.16M622.91,343.44L623.23,349.8M623.45,354.2L623.58,357.01M625.67,313.08L625.88,316.94M626.2,323.05L626.54,329.47M626.84,335.19L627.12,340.54M627.39,345.7L627.75,352.49M630.04,313.97L630.09,314.93M630.41,321.28L630.65,325.9M630.96,331.91L631.25,337.47M631.46,341.6L631.75,347.27M632.01,352.33L632.11,354.23M634.41,315.84L634.47,317.08M634.73,322.51L635.02,328.46M635.3,334.04L635.63,340.88M635.9,346.37L636.19,352.19M636.48,358.13L636.69,362.37M638.77,318.25L638.99,322.15M639.39,329.31L639.76,335.96M640.04,340.83L640.41,347.55M640.78,354.02L641.15,360.79M643.14,317L643.27,320.34M643.54,327.22L643.73,332.26M644.01,339.28L644.18,343.61M644.47,351.17L644.65,355.69M644.88,361.72L645.07,366.53M647.5,317.75L647.61,320.3M647.9,327.54L648.1,332.32M648.32,337.76L648.53,342.86M648.76,348.46L649,354.51M649.31,362.1L649.59,368.83M651.87,319.08L651.91,320.24M652.08,325.38L652.28,331.38M652.52,338.48L652.69,343.65M652.94,351.24L653.11,356.14M653.28,361.37L653.51,368.29M656.23,319L656.39,323.07M656.66,330.24L656.92,337.11M657.14,342.97L657.39,349.47M657.56,354.21L657.73,358.46M657.99,365.38L658.16,370.01M658.39,376.1L658.44,377.47M660.94,325.33L661.31,331.1M661.65,336.25L662,341.67M662.28,345.98L662.63,351.37M662.99,356.98L663.28,361.33M663.58,366.04L663.6,366.39M664.97,319.72L665.18,324.25M665.43,329.52L665.66,334.33M666.02,341.74L666.3,347.69M666.66,355.25L666.98,361.95M667.25,367.66L667.35,369.59M669.52,325.73L669.71,330.28M669.92,335.13L670.14,340.52M670.41,346.67L670.59,350.96M670.83,356.77L671.07,362.39M673.7,319.98L673.98,326.37M674.26,332.69L674.54,339.04M674.86,346.45L675.08,351.37M675.3,356.33L675.55,361.9M675.81,367.82L676.01,372.5M676.23,377.53L676.29,378.89M678.18,324.37L678.42,329.41M678.65,334.31L678.92,340.03M679.24,346.54L679.48,351.72M679.76,357.58L680.04,363.42M682.43,321.85L682.56,325.23M682.82,331.6L683.03,337.12M683.22,341.76L683.44,347.27M683.62,351.95L683.89,358.68M684.18,366.11L684.42,372.08M686.8,320.41L686.87,321.98M687.1,326.61L687.31,330.85M687.52,335.1L687.79,340.69M688.01,345.13L688.23,349.64M688.45,354.03L688.67,358.59M688.98,364.82L689.25,370.38M691.16,320.87L691.22,322.59M691.38,327.12L691.55,332.26M691.77,338.41L691.99,344.92M692.16,349.94L692.39,356.58M692.57,361.7L692.73,366.55M695.61,324.2L695.86,329.49M696.13,335.27L696.34,339.55M696.64,345.81L696.93,352.1M697.26,358.93L697.54,364.88M697.87,371.83L697.98,374.07M700.29,328.42L700.7,334.58M701,339.17L701.38,344.9M701.87,352.33L702.21,357.59M702.63,363.94L702.91,368.24M704.26,321.42L704.34,323.42M704.51,327.69L704.77,334.34M705.05,341.45L705.28,347.26M705.45,351.63L705.68,357.41M705.95,364.29L706.14,369.14M706.41,375.95L706.65,382.05M708.63,322.62L708.83,327.16M709.08,332.78L709.32,338.33M709.57,343.9L709.79,349.06M710.09,355.85L710.4,362.66M710.72,369.89L710.91,374.27M712.99,323.13L713.17,327.25M713.5,334.85L713.8,341.7M714.04,347.22L714.34,354.11M714.59,359.89L714.82,365.11M715.08,371.05L715.22,374.23M717.36,322.18L717.6,327.54M717.87,333.37L718.07,337.84M718.26,341.99L718.57,348.61M718.8,353.7L719.06,359.35M719.4,366.84L719.65,372.26M721.72,322.62L721.99,327.12M722.41,334.11L722.71,339.07M723,343.99L723.31,349.26M723.69,355.47L724.06,361.69M726.09,322.61L726.17,324.39M726.49,331.93L726.75,337.91M727.05,344.8L727.3,350.5M727.53,355.66L727.73,360.43M728.07,368.08L728.33,374.1M730.6,328.18L730.82,333.61M731.11,341.04L731.3,346.04M731.48,350.51L731.75,357.48M731.96,362.64L732.12,366.87M732.34,372.35L732.54,377.39M734.82,324.56L734.99,328.38M735.27,335L735.53,340.82M735.84,348.05L736.14,354.86M736.36,360.04L736.55,364.5M739.19,322.88L739.33,325.7M739.62,331.66L739.84,336.03M740.14,341.96L740.37,346.6M740.6,351.19L740.81,355.43M741.14,362.07L741.48,369.04M741.71,373.57L741.82,375.86M743.9,329.87L744.17,334.94M744.57,342.26L744.85,347.43M745.21,354.09L745.44,358.43M745.77,364.59L745.9,366.93M747.92,324.29L747.96,325.05M748.19,329.43L748.5,335.32M748.86,342.09L749.11,346.88M749.41,352.51L749.73,358.6M750.08,365.23L750.14,366.24" fill="none" stroke="#e40e18" stroke-width="2.6" stroke-linecap="round"/>
<path d="M606.21,262.57L606.06,271.65M605.88,282.55L605.76,289.82M607.59,262.57L607.74,271.65M607.92,282.55L608.04,289.82" fill="none" stroke="#e40e18" stroke-width="2.3"/>
<path d="M468.3,319.68 L470.38,319.59 L472.46,319.49 L474.54,319.39 L476.62,319.29 L478.69,319.19 L480.77,319.09 L482.85,318.99 L484.93,318.88 L487.01,318.77 L489.09,318.66 L491.17,318.55 L493.25,318.44 L495.33,318.32 L497.41,318.21 L499.49,318.09 L501.56,317.96 L503.64,317.84 L505.72,317.71 L507.8,317.58 L509.88,317.45 L511.96,317.31 L514.04,317.18 L516.12,317.03 L518.2,316.89 L520.27,316.74 L522.35,316.59 L524.43,316.44 L526.51,316.28 L528.59,316.11 L530.67,315.95 L532.75,315.77 L534.83,315.6 L536.91,315.41 L538.99,315.23 L541.07,315.03 L543.14,314.83 L545.22,314.63 L547.3,314.42 L549.38,314.2 L551.46,313.97 L553.54,313.73 L555.62,313.49 L557.7,313.23 L559.78,312.96 L561.86,312.68 L563.93,312.39 L566.01,312.09 L568.09,311.77 L570.17,311.43 L572.25,311.07 L574.33,310.69 L576.41,310.29 L578.49,309.86 L580.57,309.4 L582.64,308.9 L584.72,308.36 L586.8,307.77 L588.88,307.12 L590.96,306.4 L593.04,305.58 L593.18,305.52 L593.32,305.46 L593.46,305.4 L593.59,305.34 L593.73,305.28 L593.87,305.22 L594.01,305.16 L594.15,305.1 L594.29,305.03 L594.43,304.97 L594.56,304.91 L594.7,304.84 L594.84,304.77 L594.98,304.71 L595.12,304.64 L595.26,304.57 L595.4,304.5 L595.53,304.43 L595.67,304.36 L595.81,304.29 L595.95,304.22 L596.09,304.15 L596.23,304.08 L596.37,304 L596.5,303.93 L596.64,303.85 L596.78,303.77 L596.92,303.7 L597.06,303.62 L597.2,303.54 L597.34,303.46 L597.48,303.38 L597.61,303.29 L597.75,303.21 L597.89,303.12 L598.03,303.04 L598.17,302.95 L598.31,302.86 L598.45,302.77 L598.58,302.68 L598.72,302.59 L598.86,302.5 L599,302.4 L599.14,302.3 L599.28,302.21 L599.42,302.11 L599.55,302.01 L599.69,301.9 L599.83,301.8 L599.97,301.69 L600.11,301.59 L600.25,301.48 L600.39,301.37 L600.52,301.25 L600.66,301.14 L600.8,301.02 L600.94,300.9 L601.08,300.78 L601.22,300.66 L601.36,300.53 L601.49,300.4 L601.63,300.27 L601.77,300.13 L601.91,300 L602.05,299.86 L602.19,299.72 L602.33,299.57 L602.46,299.42 L602.6,299.27 L602.74,299.11 L602.88,298.95 L603.02,298.79 L603.16,298.62 L603.3,298.45 L603.43,298.28 L603.57,298.09 L603.71,297.91 L603.85,297.72 L603.99,297.52 L604.13,297.32 L604.27,297.12 L604.41,296.9 L604.54,296.68 L604.68,296.46 L604.82,296.22 L604.96,295.98 L605.1,295.74 L605.24,295.48 L605.38,295.22 L605.51,294.95 L605.65,294.67 L605.79,294.38 L605.93,294.09 L606.07,293.78 L606.21,293.47 L606.35,293.15 L606.48,292.83 L606.62,292.51 L606.76,292.19 L606.9,291.87 L607.04,291.56 L607.18,291.27 L607.32,291.01 L607.45,290.78 L607.59,290.6 L607.73,290.47 L607.87,290.41 L608.01,290.41 L608.15,290.47 L608.29,290.6 L608.42,290.78 L608.56,291.01 L608.7,291.27 L608.84,291.56 L608.98,291.87 L609.12,292.19 L609.26,292.51 L609.39,292.83 L609.53,293.15 L609.67,293.47 L609.81,293.78 L609.95,294.09 L610.09,294.38 L610.23,294.67 L610.37,294.95 L610.5,295.22 L610.64,295.48 L610.78,295.74 L610.92,295.98 L611.06,296.22 L611.2,296.46 L611.34,296.68 L611.47,296.9 L611.61,297.12 L611.75,297.32 L611.89,297.52 L612.03,297.72 L612.17,297.91 L612.31,298.09 L612.44,298.28 L612.58,298.45 L612.72,298.62 L612.86,298.79 L613,298.95 L613.14,299.11 L613.28,299.27 L613.41,299.42 L613.55,299.57 L613.69,299.72 L613.83,299.86 L613.97,300 L614.11,300.13 L614.25,300.27 L614.38,300.4 L614.52,300.53 L614.66,300.66 L614.8,300.78 L614.94,300.9 L615.08,301.02 L615.22,301.14 L615.35,301.25 L615.49,301.37 L615.63,301.48 L615.77,301.59 L615.91,301.69 L616.05,301.8 L616.19,301.9 L616.32,302.01 L616.46,302.11 L616.6,302.21 L616.74,302.3 L616.88,302.4 L617.02,302.5 L617.16,302.59 L617.29,302.68 L617.43,302.77 L617.57,302.86 L617.71,302.95 L617.85,303.04 L617.99,303.12 L618.13,303.21 L618.27,303.29 L618.4,303.38 L618.54,303.46 L618.68,303.54 L618.82,303.62 L618.96,303.7 L619.1,303.77 L619.24,303.85 L619.37,303.93 L619.51,304 L619.65,304.08 L619.79,304.15 L619.93,304.22 L620.07,304.29 L620.21,304.36 L620.34,304.43 L620.48,304.5 L620.62,304.57 L620.76,304.64 L621.11,304.81 L623.21,305.74 L625.32,306.55 L627.43,307.27 L629.54,307.91 L631.65,308.5 L633.76,309.03 L635.87,309.53 L637.97,309.99 L640.08,310.41 L642.19,310.81 L644.3,311.19 L646.41,311.55 L648.52,311.88 L650.62,312.2 L652.73,312.51 L654.84,312.8 L656.95,313.07 L659.06,313.34 L661.17,313.59 L663.27,313.84 L665.38,314.07 L667.49,314.3 L669.6,314.52 L671.71,314.73 L673.82,314.94 L675.92,315.14 L678.03,315.33 L680.14,315.52 L682.25,315.7 L684.36,315.88 L686.47,316.05 L688.57,316.21 L690.68,316.38 L692.79,316.54 L694.9,316.69 L697.01,316.84 L699.12,316.99 L701.22,317.13 L703.33,317.28 L705.44,317.41 L707.55,317.55 L709.66,317.68 L711.77,317.81 L713.87,317.94 L715.98,318.06 L718.09,318.18 L720.2,318.3 L722.31,318.42 L724.42,318.54 L726.52,318.65 L728.63,318.76 L730.74,318.87 L732.85,318.98 L734.96,319.08 L737.07,319.19 L739.17,319.29 L741.28,319.39 L743.39,319.49 L745.5,319.59" fill="none" stroke="#1c1cb8" stroke-width="2.2" stroke-dasharray="7.6 11"/>
</g>
<rect x="468.3" y="249.5" width="277.2" height="145.6" fill="none" stroke="#777" stroke-width="1.4"/>
<line x1="468.3" y1="395.1" x2="745.5" y2="395.1" stroke="#505050" stroke-width="1.4"/>
<line x1="468.3" y1="249.5" x2="468.3" y2="395.1" stroke="#1a1a1a" stroke-width="1.9"/>
<line x1="465.5" y1="249.85" x2="468.3" y2="249.85" stroke="#222" stroke-width="1.1"/>
<line x1="465.5" y1="257.12" x2="468.3" y2="257.12" stroke="#222" stroke-width="1.1"/>
<line x1="465.5" y1="264.38" x2="468.3" y2="264.38" stroke="#222" stroke-width="1.1"/>
<line x1="465.5" y1="271.65" x2="468.3" y2="271.65" stroke="#222" stroke-width="1.1"/>
<line x1="465.5" y1="278.92" x2="468.3" y2="278.92" stroke="#222" stroke-width="1.1"/>
<line x1="465.5" y1="286.19" x2="468.3" y2="286.19" stroke="#222" stroke-width="1.1"/>
<line x1="465.5" y1="293.46" x2="468.3" y2="293.46" stroke="#222" stroke-width="1.1"/>
<line x1="465.5" y1="300.72" x2="468.3" y2="300.72" stroke="#222" stroke-width="1.1"/>
<line x1="465.5" y1="307.99" x2="468.3" y2="307.99" stroke="#222" stroke-width="1.1"/>
<line x1="465.5" y1="315.26" x2="468.3" y2="315.26" stroke="#222" stroke-width="1.1"/>
<line x1="465.5" y1="322.53" x2="468.3" y2="322.53" stroke="#222" stroke-width="1.1"/>
<line x1="465.5" y1="329.79" x2="468.3" y2="329.79" stroke="#222" stroke-width="1.1"/>
<line x1="465.5" y1="337.06" x2="468.3" y2="337.06" stroke="#222" stroke-width="1.1"/>
<line x1="465.5" y1="344.33" x2="468.3" y2="344.33" stroke="#222" stroke-width="1.1"/>
<line x1="465.5" y1="351.6" x2="468.3" y2="351.6" stroke="#222" stroke-width="1.1"/>
<line x1="465.5" y1="358.86" x2="468.3" y2="358.86" stroke="#222" stroke-width="1.1"/>
<line x1="465.5" y1="366.13" x2="468.3" y2="366.13" stroke="#222" stroke-width="1.1"/>
<line x1="465.5" y1="373.4" x2="468.3" y2="373.4" stroke="#222" stroke-width="1.1"/>
<line x1="465.5" y1="380.67" x2="468.3" y2="380.67" stroke="#222" stroke-width="1.1"/>
<line x1="465.5" y1="387.93" x2="468.3" y2="387.93" stroke="#222" stroke-width="1.1"/>
<line x1="465.5" y1="395.2" x2="468.3" y2="395.2" stroke="#222" stroke-width="1.1"/>
<line x1="468.3" y1="395.1" x2="468.3" y2="398.1" stroke="#555" stroke-width="1"/>
<text x="468.3" y="420.5" font-size="26.5" text-anchor="middle">-2</text>
<line x1="537.6" y1="395.1" x2="537.6" y2="398.1" stroke="#555" stroke-width="1"/>
<text x="537.6" y="420.5" font-size="26.5" text-anchor="middle">-1</text>
<line x1="606.9" y1="395.1" x2="606.9" y2="398.1" stroke="#555" stroke-width="1"/>
<text x="606.9" y="420.5" font-size="26.5" text-anchor="middle">0</text>
<line x1="676.2" y1="395.1" x2="676.2" y2="398.1" stroke="#555" stroke-width="1"/>
<text x="676.2" y="420.5" font-size="26.5" text-anchor="middle">1</text>
<line x1="745.5" y1="395.1" x2="745.5" y2="398.1" stroke="#555" stroke-width="1"/>
<text x="745.5" y="420.5" font-size="26.5" text-anchor="middle">2</text>
<line x1="502.95" y1="395.1" x2="502.95" y2="397.1" stroke="#555" stroke-width="1"/>
<line x1="572.25" y1="395.1" x2="572.25" y2="397.1" stroke="#555" stroke-width="1"/>
<line x1="641.55" y1="395.1" x2="641.55" y2="397.1" stroke="#555" stroke-width="1"/>
<line x1="710.85" y1="395.1" x2="710.85" y2="397.1" stroke="#555" stroke-width="1"/>
<text x="463.3" y="259.85" font-size="26.5" text-anchor="end">10<tspan font-size="17.5" dy="-12">0</tspan></text>
<text x="463.3" y="332.53" font-size="26.5" text-anchor="end">10<tspan font-size="17.5" dy="-12">-10</tspan></text>
<text x="463.3" y="405.2" font-size="26.5" text-anchor="end">10<tspan font-size="17.5" dy="-12">-20</tspan></text>
<text transform="translate(476.1,268.8) scale(1,1.09)" class="sb" font-size="21">D</text>
<text x="577.7" y="449.6" font-size="26.5"><tspan font-style="italic">p</tspan>/<tspan dx="2.3">10</tspan><tspan font-size="17.5" dy="-11.2">2</tspan></text>
<text transform="translate(395.3,383.05) rotate(-90)" font-size="27.5"><tspan font-size="27.5">|ψ</tspan><tspan font-size="18" dy="6.2">R</tspan><tspan font-size="27.5" dy="-6.2">(</tspan><tspan font-size="27.5" font-style="italic">t</tspan><tspan font-size="18" dy="6.2">0</tspan><tspan font-size="27.5" dy="-6.2">)|</tspan><tspan font-size="17.5" dy="-11.5">2</tspan><tspan font-size="27.5" dy="11.5">,</tspan><tspan font-size="27.5">|φ</tspan><tspan font-size="18" dy="6.2">R</tspan><tspan font-size="27.5" dy="-6.2">(</tspan><tspan font-size="27.5" font-style="italic">t</tspan><tspan font-size="18" dy="6.2">0</tspan><tspan font-size="27.5" dy="-6.2">)|</tspan><tspan font-size="17.5" dy="-11.5">2</tspan></text>
<clipPath id="clipF"><rect x="468.3" y="458.6" width="277.2" height="145.7"/></clipPath>
<g clip-path="url(#clipF)">
<path d="M468.5,534.1 L471.01,576.7 L472.87,532.81 L475.54,589.76 L477.23,531.79 L479.75,588 L481.6,533.29 L483.77,578.9 L485.96,532.29 L488.38,577.01 L490.33,531.85 L492.73,581.97 L494.7,532.64 L496.27,582.93 L499.06,533 L501.53,582.2 L503.43,532.38 L505.49,583.97 L507.79,531.65 L510.4,580.66 L512.16,532.14 L514.59,583.1 L516.53,531.18 L518.64,581.22 L520.89,531.63 L523.14,584.47 L525.26,531.35 L527.41,574.84 L529.62,531.23 L531.7,588.03 L533.99,529.09 L536.29,582.74 L538.36,529.41 L540.42,574.24 L542.72,530.6 L545.35,572.76 L547.09,529.09 L549.4,580.31 L551.45,529.83 L554.13,584.68 L555.82,527.98 L558.08,582.83 L560.18,527.17 L562.22,583.29 L564.55,527.28 L566.95,579.56 L568.92,526.1 L571.4,570.49 L573.28,526.91 L575,571.41 L577.65,525.84 L580.15,579.08 L582.01,524.63 L584.62,570 L586.38,522.7 L588.32,562.24 L590.75,521.86 L593.19,565.34 L595.11,518.73 L597.52,559.44 L599.48,516.51 L602.08,552.91 L603.85,510.51 L604.82,541.86 L605.51,514.22 L606.21,471.68 L606.9,467.31 L607.59,471.68 L608.29,514.22 L608.98,505.62 L610.09,539.67 L612.58,511.08 L615.76,546.43 L616.94,516.07 L619.09,557.56 L621.31,520.13 L623.58,566.19 L625.67,522.23 L627.98,565.98 L630.04,523.12 L632.11,563.4 L634.41,524.98 L636.96,577.17 L638.77,527.39 L641.26,571.82 L643.14,526.15 L645.22,579.41 L647.5,526.9 L649.78,582.79 L651.87,528.22 L653.62,580.58 L656.23,528.15 L658.44,586.66 L660.6,529.33 L663.6,575.57 L664.97,528.87 L667.35,578.78 L669.33,530.49 L671.22,575.15 L673.7,529.13 L676.29,588.08 L678.06,531.15 L680.18,575.53 L682.43,531 L684.48,582.9 L686.8,529.56 L689.25,579.57 L691.16,530.02 L692.73,575.73 L695.53,531.7 L697.98,583.25 L699.89,531.51 L702.91,577.42 L704.26,530.57 L706.65,591.43 L708.63,531.77 L710.94,584.05 L712.99,532.28 L715.22,583.41 L717.36,531.33 L719.7,582.4 L721.72,531.77 L724.35,575.86 L726.09,531.76 L728.33,583.28 L730.45,533.59 L732.63,588.87 L734.82,533.72 L736.61,574.83 L739.19,532.03 L741.82,585.05 L743.55,532.6 L745.9,576.11 L747.92,533.44 L750.14,575.42" fill="none" stroke="#a4a4a4" stroke-width="0.95"/>
<path d="M468.67,536.92L468.94,541.64M469.34,548.33L469.69,554.31M470.04,560.18L470.3,564.66M470.59,569.58L470.86,574.14M472.87,532.81L472.9,533.47M473.24,540.7L473.56,547.45M473.79,552.46L474.02,557.31M474.28,562.86L474.6,569.75M474.89,575.75L475.18,581.96M475.42,587.07L475.54,589.76M477.23,531.79L477.31,533.46M477.64,540.81L477.88,546.17M478.15,552.29L478.42,558.31M478.65,563.5L478.88,568.68M479.14,574.46L479.36,579.35M479.63,585.48L479.75,588M481.6,533.29L481.71,535.56M481.94,540.52L482.23,546.51M482.48,551.8L482.71,556.52M482.93,561.27L483.14,565.58M483.47,572.5L483.75,578.44M485.96,532.29L486.12,535.18M486.5,542.19L486.83,548.26M487.08,552.98L487.41,559.1M487.68,564.05L488.04,570.7M490.36,532.38L490.62,537.82M490.83,542.19L491.1,547.84M491.41,554.3L491.7,560.39M492.04,567.59L492.31,573.02M492.58,578.8L492.73,581.97M494.7,532.64L494.83,536.79M495.04,543.67L495.2,548.71M495.41,555.62L495.56,560.15M495.75,566.41L495.9,571.28M496.1,577.38L496.27,582.93M499.06,533L499.27,537.22M499.65,544.64L499.99,551.55M500.27,557.18L500.49,561.47M500.81,567.81L501.09,573.47M501.35,578.54L501.53,582.2M503.64,537.58L503.82,542.3M504.02,547.28L504.22,552.17M504.52,559.72L504.8,566.66M504.99,571.54L505.2,576.71M505.41,581.9L505.49,583.97M507.79,531.65L508.11,537.67M508.49,544.68L508.73,549.26M509,554.34L509.29,559.8M509.63,566.11L509.91,571.46M510.29,578.59L510.4,580.66M512.16,532.14L512.31,535.25M512.58,540.97L512.82,546.04M513.05,550.77L513.34,556.92M513.62,562.73L513.92,568.97M514.21,575.08L514.47,580.53M516.71,535.42L516.9,540.01M517.14,545.7L517.33,550.17M517.57,555.87L517.8,561.3M518.11,568.64L518.39,575.45M521.05,535.31L521.24,539.8M521.51,546.08L521.72,551M521.89,555.18L522.13,560.74M522.34,565.75L522.54,570.3M522.79,576.39L523.09,583.36M525.26,531.35L525.46,535.52M525.7,540.36L525.95,545.26M526.29,552.32L526.6,558.57M526.83,563.04L527.09,568.4M527.36,573.8L527.41,574.84M529.62,531.23L529.71,533.64M529.94,539.94L530.16,545.89M530.37,551.66L530.58,557.48M530.75,562L530.95,567.48M531.1,571.64L531.31,577.4M531.55,583.87L531.7,588.03M534.1,531.77L534.33,537.1M534.53,541.62L534.81,548.29M535.01,552.85L535.22,557.72M535.49,564.11L535.79,571M536.12,578.6L536.29,582.74M538.66,535.94L538.94,542.13M539.24,548.7L539.56,555.53M539.88,562.47L540.17,568.85M543.1,536.71L543.42,541.71M543.88,549.2L544.17,553.87M544.64,561.33L545.02,567.34M547.09,529.09L547.33,534.42M547.61,540.79L547.83,545.67M548.07,550.87L548.26,555.11M548.56,561.74L548.84,567.97M549.16,574.98L549.38,579.89M551.6,532.87L551.83,537.62M552.07,542.48L552.34,547.96M552.6,553.27L552.82,557.94M553.11,563.79L553.45,570.69M553.65,574.89L553.92,580.36M555.82,527.98L555.92,530.49M556.24,538.09L556.43,542.87M556.66,548.46L556.85,553.04M557.1,559.02L557.31,563.99M557.54,569.69L557.81,576.3M560.18,527.17L560.29,530.12M560.5,535.97L560.76,542.95M560.91,547.08L561.11,552.73M561.28,557.29L561.52,564.08M561.71,569.09L561.93,575.23M562.15,581.37L562.22,583.29M564.55,527.28L564.7,530.49M564.96,536.22L565.21,541.65M565.55,549.01L565.83,555.17M566.16,562.24L566.39,567.25M566.62,572.42L566.91,578.64M568.92,526.1L569.01,527.77M569.29,532.71L569.57,537.8M569.86,543.01L570.25,549.94M570.51,554.6L570.75,558.87M571.06,564.49L571.4,570.49M573.44,531.09L573.7,537.83M573.9,543.02L574.07,547.47M574.35,554.73L574.61,561.27M574.84,567.25L575,571.41M577.93,531.77L578.15,536.55M578.45,542.99L578.66,547.27M578.96,553.72L579.28,560.5M579.59,567.2L579.84,572.36M580.08,577.53L580.15,579.08M582.01,524.63L582.21,528.03M582.57,534.29L582.93,540.65M583.37,548.25L583.76,554.99M584.08,560.57L584.38,565.84M586.38,522.7L586.6,527.09M586.84,532.07L587.15,538.34M587.46,544.82L587.69,549.42M587.97,555.02L588.18,559.5M590.75,521.86L590.97,525.8M591.36,532.83L591.69,538.61M592.03,544.6L592.31,549.63M592.65,555.64L592.91,560.36M595.11,518.73L595.15,519.39M595.47,524.71L595.72,529.02M596.12,535.75L596.49,542.12M596.78,546.95L597.19,553.85M599.48,516.51L599.72,519.87M600.19,526.44L600.57,531.79M601.02,538.05L601.45,544M601.92,550.61L602.08,552.91M603.85,510.51L603.95,513.8M604.14,519.97L604.31,525.42M604.46,530.11L604.64,536.02M604.79,540.82L604.82,541.86M609.12,509.92L609.3,515.63M609.49,521.39L609.71,528.01M609.85,532.41L610.05,538.58M612.58,511.08L612.81,513.66M613.22,518.22L613.64,522.89M614.29,530.16L614.69,534.62M615.34,541.8L615.76,546.43M616.95,516.23L617.21,521.2M617.54,527.68L617.82,533.13M618.04,537.4L618.36,543.48M618.73,550.61L618.97,555.26M621.67,527.39L622.01,534.29M622.28,539.89L622.55,545.3M622.91,552.58L623.23,558.95M623.44,563.34L623.58,566.19M625.67,522.23L625.88,526.08M626.2,532.19L626.54,538.61M626.84,544.34L627.12,549.69M627.39,554.84L627.75,561.63M630.04,523.12L630.09,524.07M630.41,530.43L630.65,535.05M630.96,541.06L631.24,546.61M631.46,550.74L631.75,556.41M632.01,561.47L632.11,563.4M634.41,524.98L634.47,526.22M634.73,531.66L635.02,537.6M635.3,543.18L635.63,550.03M635.9,555.52L636.19,561.33M636.48,567.28L636.69,571.52M638.77,527.39L638.99,531.3M639.39,538.46L639.76,545.11M640.04,549.98L640.41,556.69M640.77,563.16L641.15,569.93M643.14,526.15L643.27,529.49M643.54,536.37L643.73,541.4M644.01,548.43L644.18,552.75M644.47,560.32L644.65,564.83M644.88,570.87L645.07,575.68M647.5,526.9L647.61,529.45M647.9,536.68L648.1,541.46M648.32,546.91L648.53,552M648.76,557.61L649,563.66M649.31,571.25L649.59,577.97M651.87,528.22L651.91,529.39M652.08,534.53L652.28,540.52M652.52,547.63L652.69,552.8M652.94,560.38L653.11,565.29M653.28,570.52L653.51,577.44M656.23,528.15L656.39,532.22M656.66,539.39L656.92,546.25M657.14,552.12L657.38,558.61M657.56,563.36L657.72,567.61M657.99,574.53L658.16,579.16M658.39,585.25L658.44,586.66M660.93,534.48L661.31,540.25M661.64,545.4L662,550.81M662.28,555.13L662.63,560.52M662.99,566.13L663.27,570.48M663.58,575.19L663.6,575.57M664.97,528.87L665.18,533.4M665.43,538.67L665.66,543.48M666.02,550.89L666.3,556.83M666.66,564.39L666.98,571.1M667.25,576.81L667.35,578.78M669.52,534.88L669.71,539.43M669.92,544.28L670.14,549.67M670.4,555.82L670.59,560.11M670.83,565.92L671.07,571.54M673.7,529.13L673.98,535.52M674.26,541.84L674.54,548.19M674.86,555.6L675.08,560.52M675.3,565.48L675.54,571.05M675.8,576.97L676.01,581.65M676.23,586.68L676.29,588.08M678.18,533.52L678.42,538.56M678.65,543.46L678.92,549.18M679.23,555.69L679.48,560.87M679.76,566.73L680.04,572.57M682.43,531L682.56,534.37M682.82,540.75L683.03,546.27M683.22,550.91L683.44,556.42M683.62,561.1L683.89,567.83M684.18,575.26L684.42,581.23M686.8,529.56L686.87,531.12M687.1,535.76L687.31,540M687.52,544.25L687.79,549.84M688.01,554.28L688.23,558.79M688.44,563.17L688.67,567.74M688.97,573.97L689.25,579.57M691.16,530.02L691.22,531.74M691.38,536.27L691.55,541.41M691.77,547.56L691.99,554.07M692.16,559.08L692.39,565.73M692.57,570.85L692.73,575.73M695.61,533.35L695.86,538.64M696.13,544.42L696.34,548.7M696.63,554.96L696.93,561.25M697.26,568.08L697.54,574.03M697.87,580.98L697.98,583.25M700.29,537.57L700.7,543.73M701,548.32L701.38,554.05M701.86,561.48L702.21,566.74M702.63,573.09L702.91,577.42M704.26,530.57L704.34,532.56M704.51,536.84L704.77,543.49M705.05,550.6L705.28,556.41M705.45,560.78L705.68,566.56M705.95,573.44L706.14,578.28M706.4,585.09L706.64,591.2M708.63,531.77L708.83,536.31M709.07,541.93L709.32,547.48M709.57,553.05L709.79,558.21M710.09,565L710.39,571.81M710.71,579.04L710.91,583.42M712.99,532.28L713.17,536.4M713.5,544L713.8,550.85M714.04,556.37L714.34,563.26M714.59,569.04L714.82,574.26M715.08,580.2L715.22,583.41M717.36,531.33L717.6,536.69M717.87,542.52L718.07,546.99M718.26,551.14L718.57,557.76M718.8,562.85L719.06,568.5M719.4,575.99L719.65,581.41M721.72,531.77L721.99,536.27M722.41,543.26L722.71,548.22M723,553.14L723.31,558.41M723.68,564.62L724.05,570.84M726.09,531.76L726.17,533.54M726.49,541.08L726.75,547.06M727.05,553.95L727.3,559.65M727.53,564.81L727.73,569.58M728.07,577.23L728.33,583.28M730.6,537.33L730.82,542.77M731.11,550.19L731.3,555.19M731.48,559.67L731.75,566.64M731.96,571.79L732.12,576.02M732.34,581.5L732.54,586.55M734.82,533.72L734.99,537.54M735.27,544.15L735.53,549.97M735.84,557.2L736.14,564.02M736.36,569.2L736.55,573.65M739.19,532.03L739.33,534.85M739.62,540.81L739.84,545.19M740.14,551.11L740.37,555.75M740.59,560.34L740.81,564.58M741.14,571.22L741.48,578.19M741.71,582.72L741.82,585.05M743.9,539.02L744.17,544.09M744.57,551.41L744.85,556.58M745.21,563.24L745.44,567.59M745.77,573.74L745.9,576.11M747.92,533.44L747.96,534.2M748.19,538.58L748.5,544.47M748.86,551.24L749.11,556.04M749.41,561.66L749.73,567.75M750.08,574.38L750.14,575.42" fill="none" stroke="#e40e18" stroke-width="2.6" stroke-linecap="round"/>
<path d="M606.21,471.68L606.06,480.77M605.88,491.68L605.76,498.95M607.59,471.68L607.74,480.77M607.92,491.68L608.04,498.95" fill="none" stroke="#e40e18" stroke-width="2.3"/>
<path d="M468.3,528.83 L470.38,528.73 L472.46,528.64 L474.54,528.54 L476.62,528.44 L478.69,528.34 L480.77,528.24 L482.85,528.13 L484.93,528.03 L487.01,527.92 L489.09,527.81 L491.17,527.7 L493.25,527.59 L495.33,527.47 L497.41,527.35 L499.49,527.23 L501.56,527.11 L503.64,526.99 L505.72,526.86 L507.8,526.73 L509.88,526.6 L511.96,526.46 L514.04,526.32 L516.12,526.18 L518.2,526.04 L520.27,525.89 L522.35,525.74 L524.43,525.58 L526.51,525.42 L528.59,525.26 L530.67,525.09 L532.75,524.92 L534.83,524.74 L536.91,524.56 L538.99,524.37 L541.07,524.18 L543.14,523.98 L545.22,523.77 L547.3,523.56 L549.38,523.34 L551.46,523.11 L553.54,522.88 L555.62,522.63 L557.7,522.37 L559.78,522.11 L561.86,521.83 L563.93,521.54 L566.01,521.23 L568.09,520.91 L570.17,520.57 L572.25,520.22 L574.33,519.84 L576.41,519.43 L578.49,519 L580.57,518.54 L582.64,518.05 L584.72,517.5 L586.8,516.91 L588.88,516.26 L590.96,515.54 L593.04,514.72 L593.18,514.66 L593.32,514.6 L593.46,514.54 L593.59,514.48 L593.73,514.42 L593.87,514.36 L594.01,514.3 L594.15,514.23 L594.29,514.17 L594.43,514.11 L594.56,514.04 L594.7,513.98 L594.84,513.91 L594.98,513.85 L595.12,513.78 L595.26,513.71 L595.4,513.64 L595.53,513.57 L595.67,513.5 L595.81,513.43 L595.95,513.36 L596.09,513.29 L596.23,513.21 L596.37,513.14 L596.5,513.06 L596.64,512.99 L596.78,512.91 L596.92,512.83 L597.06,512.76 L597.2,512.68 L597.34,512.59 L597.48,512.51 L597.61,512.43 L597.75,512.35 L597.89,512.26 L598.03,512.18 L598.17,512.09 L598.31,512 L598.45,511.91 L598.58,511.82 L598.72,511.73 L598.86,511.63 L599,511.54 L599.14,511.44 L599.28,511.34 L599.42,511.24 L599.55,511.14 L599.69,511.04 L599.83,510.94 L599.97,510.83 L600.11,510.72 L600.25,510.61 L600.39,510.5 L600.52,510.39 L600.66,510.27 L600.8,510.16 L600.94,510.04 L601.08,509.91 L601.22,509.79 L601.36,509.66 L601.49,509.53 L601.63,509.4 L601.77,509.27 L601.91,509.13 L602.05,508.99 L602.19,508.85 L602.33,508.7 L602.46,508.56 L602.6,508.4 L602.74,508.25 L602.88,508.09 L603.02,507.92 L603.16,507.76 L603.3,507.58 L603.43,507.41 L603.57,507.23 L603.71,507.04 L603.85,506.85 L603.99,506.66 L604.13,506.45 L604.27,506.25 L604.41,506.03 L604.54,505.82 L604.68,505.59 L604.82,505.36 L604.96,505.12 L605.1,504.87 L605.24,504.61 L605.38,504.35 L605.51,504.08 L605.65,503.8 L605.79,503.51 L605.93,503.22 L606.07,502.91 L606.21,502.6 L606.35,502.28 L606.48,501.96 L606.62,501.64 L606.76,501.32 L606.9,501 L607.04,500.69 L607.18,500.4 L607.32,500.14 L607.45,499.91 L607.59,499.73 L607.73,499.6 L607.87,499.54 L608.01,499.54 L608.15,499.6 L608.29,499.73 L608.42,499.91 L608.56,500.14 L608.7,500.4 L608.84,500.69 L608.98,501 L609.12,501.32 L609.26,501.64 L609.39,501.96 L609.53,502.28 L609.67,502.6 L609.81,502.91 L609.95,503.22 L610.09,503.51 L610.23,503.8 L610.37,504.08 L610.5,504.35 L610.64,504.61 L610.78,504.87 L610.92,505.12 L611.06,505.36 L611.2,505.59 L611.34,505.82 L611.47,506.03 L611.61,506.25 L611.75,506.45 L611.89,506.66 L612.03,506.85 L612.17,507.04 L612.31,507.23 L612.44,507.41 L612.58,507.58 L612.72,507.76 L612.86,507.92 L613,508.09 L613.14,508.25 L613.28,508.4 L613.41,508.56 L613.55,508.7 L613.69,508.85 L613.83,508.99 L613.97,509.13 L614.11,509.27 L614.25,509.4 L614.38,509.53 L614.52,509.66 L614.66,509.79 L614.8,509.91 L614.94,510.04 L615.08,510.16 L615.22,510.27 L615.35,510.39 L615.49,510.5 L615.63,510.61 L615.77,510.72 L615.91,510.83 L616.05,510.94 L616.19,511.04 L616.32,511.14 L616.46,511.24 L616.6,511.34 L616.74,511.44 L616.88,511.54 L617.02,511.63 L617.16,511.73 L617.29,511.82 L617.43,511.91 L617.57,512 L617.71,512.09 L617.85,512.18 L617.99,512.26 L618.13,512.35 L618.27,512.43 L618.4,512.51 L618.54,512.59 L618.68,512.68 L618.82,512.76 L618.96,512.83 L619.1,512.91 L619.24,512.99 L619.37,513.06 L619.51,513.14 L619.65,513.21 L619.79,513.29 L619.93,513.36 L620.07,513.43 L620.21,513.5 L620.34,513.57 L620.48,513.64 L620.62,513.71 L620.76,513.78 L621.11,513.95 L623.21,514.87 L625.32,515.69 L627.43,516.41 L629.54,517.05 L631.65,517.64 L633.76,518.17 L635.87,518.67 L637.97,519.13 L640.08,519.56 L642.19,519.96 L644.3,520.33 L646.41,520.69 L648.52,521.02 L650.62,521.34 L652.73,521.65 L654.84,521.94 L656.95,522.22 L659.06,522.48 L661.17,522.74 L663.27,522.98 L665.38,523.22 L667.49,523.45 L669.6,523.67 L671.71,523.88 L673.82,524.08 L675.92,524.28 L678.03,524.48 L680.14,524.66 L682.25,524.84 L684.36,525.02 L686.47,525.19 L688.57,525.36 L690.68,525.52 L692.79,525.68 L694.9,525.84 L697.01,525.99 L699.12,526.14 L701.22,526.28 L703.33,526.42 L705.44,526.56 L707.55,526.69 L709.66,526.83 L711.77,526.96 L713.87,527.08 L715.98,527.21 L718.09,527.33 L720.2,527.45 L722.31,527.57 L724.42,527.68 L726.52,527.8 L728.63,527.91 L730.74,528.02 L732.85,528.12 L734.96,528.23 L737.07,528.33 L739.17,528.44 L741.28,528.54 L743.39,528.64 L745.5,528.73" fill="none" stroke="#1c1cb8" stroke-width="2.2" stroke-dasharray="7.6 11"/>
</g>
<rect x="468.3" y="458.6" width="277.2" height="145.7" fill="none" stroke="#777" stroke-width="1.4"/>
<line x1="468.3" y1="604.3" x2="745.5" y2="604.3" stroke="#505050" stroke-width="1.4"/>
<line x1="468.3" y1="458.6" x2="468.3" y2="604.3" stroke="#1a1a1a" stroke-width="1.9"/>
<line x1="465.5" y1="458.95" x2="468.3" y2="458.95" stroke="#222" stroke-width="1.1"/>
<line x1="465.5" y1="466.22" x2="468.3" y2="466.22" stroke="#222" stroke-width="1.1"/>
<line x1="465.5" y1="473.5" x2="468.3" y2="473.5" stroke="#222" stroke-width="1.1"/>
<line x1="465.5" y1="480.77" x2="468.3" y2="480.77" stroke="#222" stroke-width="1.1"/>
<line x1="465.5" y1="488.04" x2="468.3" y2="488.04" stroke="#222" stroke-width="1.1"/>
<line x1="465.5" y1="495.31" x2="468.3" y2="495.31" stroke="#222" stroke-width="1.1"/>
<line x1="465.5" y1="502.59" x2="468.3" y2="502.59" stroke="#222" stroke-width="1.1"/>
<line x1="465.5" y1="509.86" x2="468.3" y2="509.86" stroke="#222" stroke-width="1.1"/>
<line x1="465.5" y1="517.13" x2="468.3" y2="517.13" stroke="#222" stroke-width="1.1"/>
<line x1="465.5" y1="524.4" x2="468.3" y2="524.4" stroke="#222" stroke-width="1.1"/>
<line x1="465.5" y1="531.67" x2="468.3" y2="531.67" stroke="#222" stroke-width="1.1"/>
<line x1="465.5" y1="538.95" x2="468.3" y2="538.95" stroke="#222" stroke-width="1.1"/>
<line x1="465.5" y1="546.22" x2="468.3" y2="546.22" stroke="#222" stroke-width="1.1"/>
<line x1="465.5" y1="553.49" x2="468.3" y2="553.49" stroke="#222" stroke-width="1.1"/>
<line x1="465.5" y1="560.76" x2="468.3" y2="560.76" stroke="#222" stroke-width="1.1"/>
<line x1="465.5" y1="568.04" x2="468.3" y2="568.04" stroke="#222" stroke-width="1.1"/>
<line x1="465.5" y1="575.31" x2="468.3" y2="575.31" stroke="#222" stroke-width="1.1"/>
<line x1="465.5" y1="582.58" x2="468.3" y2="582.58" stroke="#222" stroke-width="1.1"/>
<line x1="465.5" y1="589.86" x2="468.3" y2="589.86" stroke="#222" stroke-width="1.1"/>
<line x1="465.5" y1="597.13" x2="468.3" y2="597.13" stroke="#222" stroke-width="1.1"/>
<line x1="465.5" y1="604.4" x2="468.3" y2="604.4" stroke="#222" stroke-width="1.1"/>
<line x1="468.3" y1="604.3" x2="468.3" y2="607.3" stroke="#555" stroke-width="1"/>
<text x="468.3" y="629.7" font-size="26.5" text-anchor="middle">-2</text>
<line x1="537.6" y1="604.3" x2="537.6" y2="607.3" stroke="#555" stroke-width="1"/>
<text x="537.6" y="629.7" font-size="26.5" text-anchor="middle">-1</text>
<line x1="606.9" y1="604.3" x2="606.9" y2="607.3" stroke="#555" stroke-width="1"/>
<text x="606.9" y="629.7" font-size="26.5" text-anchor="middle">0</text>
<line x1="676.2" y1="604.3" x2="676.2" y2="607.3" stroke="#555" stroke-width="1"/>
<text x="676.2" y="629.7" font-size="26.5" text-anchor="middle">1</text>
<line x1="745.5" y1="604.3" x2="745.5" y2="607.3" stroke="#555" stroke-width="1"/>
<text x="745.5" y="629.7" font-size="26.5" text-anchor="middle">2</text>
<line x1="502.95" y1="604.3" x2="502.95" y2="606.3" stroke="#555" stroke-width="1"/>
<line x1="572.25" y1="604.3" x2="572.25" y2="606.3" stroke="#555" stroke-width="1"/>
<line x1="641.55" y1="604.3" x2="641.55" y2="606.3" stroke="#555" stroke-width="1"/>
<line x1="710.85" y1="604.3" x2="710.85" y2="606.3" stroke="#555" stroke-width="1"/>
<text x="463.3" y="468.95" font-size="26.5" text-anchor="end">10<tspan font-size="17.5" dy="-12">0</tspan></text>
<text x="463.3" y="541.67" font-size="26.5" text-anchor="end">10<tspan font-size="17.5" dy="-12">-10</tspan></text>
<text x="463.3" y="614.4" font-size="26.5" text-anchor="end">10<tspan font-size="17.5" dy="-12">-20</tspan></text>
<text transform="translate(475.8,483.7) scale(1,1.09)" class="sb" font-size="21">F</text>
<text x="580.4" y="660.7" font-size="26.5"><tspan font-style="italic">p</tspan>/<tspan dx="2.3">10</tspan><tspan font-size="17.5" dy="-11.2">2</tspan></text>
<text transform="translate(397.5,592.55) rotate(-90)" font-size="27.5"><tspan font-size="27.5">|ψ</tspan><tspan font-size="18" dy="6.2">R</tspan><tspan font-size="27.5" dy="-6.2">(</tspan><tspan font-size="27.5" font-style="italic">t</tspan><tspan font-size="18" dy="6.2">0</tspan><tspan font-size="27.5" dy="-6.2">)|</tspan><tspan font-size="17.5" dy="-11.5">2</tspan><tspan font-size="27.5" dy="11.5">,</tspan><tspan font-size="27.5">|φ</tspan><tspan font-size="18" dy="6.2">R</tspan><tspan font-size="27.5" dy="-6.2">(</tspan><tspan font-size="27.5" font-style="italic">t</tspan><tspan font-size="18" dy="6.2">0</tspan><tspan font-size="27.5" dy="-6.2">)|</tspan><tspan font-size="17.5" dy="-11.5">2</tspan></text>
</svg></body></html>
